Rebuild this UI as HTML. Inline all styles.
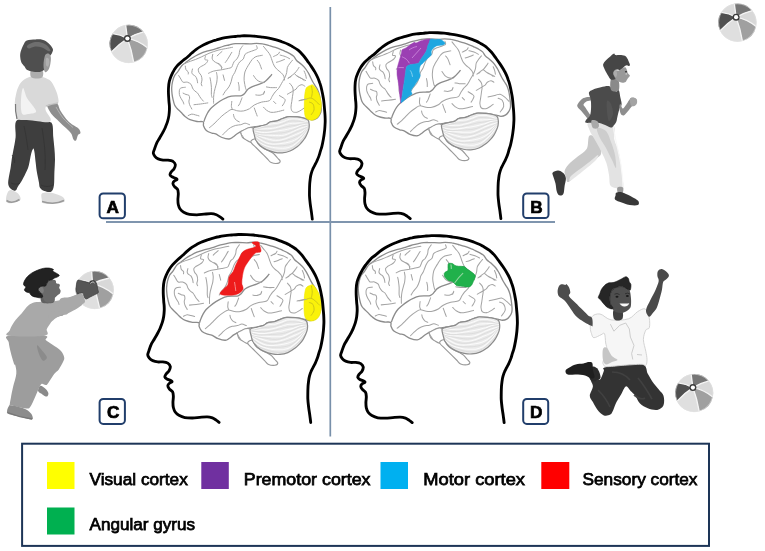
<!DOCTYPE html>
<html><head><meta charset="utf-8">
<style>
html,body{margin:0;padding:0;background:#fff;}
body{width:765px;height:551px;overflow:hidden;position:relative;font-family:"Liberation Sans",sans-serif;}
svg{position:absolute;left:0;top:0;display:block;will-change:transform;}
.lt{font-family:"Liberation Sans",sans-serif;font-size:17.2px;fill:#000;stroke:#000;stroke-width:0.75px;}
.lbl{font-family:"Liberation Sans",sans-serif;font-weight:bold;font-size:17.2px;fill:#000;stroke:#000;stroke-width:0.7px;}
</style></head>
<body>
<svg width="765" height="551" viewBox="0 0 765 551">
<defs>
<g id="brain"><path d="M172.1,94.4 C171.9,92.5 171.6,90.1 171.7,87.9 C171.8,85.7 172.1,83.3 172.6,81.3 C173.1,79.2 173.7,77.2 174.6,75.6 C175.5,74 176.7,73.2 177.9,71.5 C179.1,69.8 180.6,67 181.9,65.5 C183.2,64 184.1,63.9 185.5,62.8 C186.9,61.7 188.7,60.2 190.4,59 C192.1,57.8 194.1,56.8 195.9,55.8 C197.7,54.8 199.5,53.9 201.3,53.1 C203.1,52.3 205,51.8 206.8,51.2 C208.6,50.7 210.6,50.2 212.2,49.8 C213.8,49.4 214.6,49.1 216.3,48.6 C218.1,48.1 220.6,47.1 222.7,46.5 C224.8,45.9 226.9,45.5 229,45 C231.1,44.5 233.3,43.9 235.4,43.7 C237.5,43.5 239.3,43.6 241.7,43.6 C244.1,43.6 247.6,43.9 250,43.9 C252.4,43.9 254.2,43.4 256.3,43.4 C258.4,43.4 260.6,43.5 262.7,43.9 C264.8,44.2 266.9,44.9 269,45.5 C271.1,46.1 273.3,46.7 275.4,47.4 C277.5,48.1 280.1,49.2 281.7,49.9 C283.3,50.5 283.7,50.7 285,51.3 C286.3,51.9 287.9,52.6 289.4,53.4 C290.8,54.2 292.5,55.1 293.7,56.3 C294.9,57.5 295.4,59.2 296.6,60.5 C297.8,61.8 299.6,62.7 301,64 C302.4,65.3 304.1,66.8 305.3,68.3 C306.5,69.8 307.3,71.2 308.2,72.7 C309.1,74.2 309.9,76 310.6,77.5 C311.3,79 311.9,80.2 312.6,81.5 C313.3,82.8 314.2,84.2 315,85.5 C315.8,86.8 316.8,88 317.5,89.5 C318.2,91 318.8,92.7 319.3,94.5 C319.8,96.3 320.1,98.2 320.4,100.4 C320.7,102.6 321.1,105.8 321.2,107.7 C321.3,109.6 321.3,110.7 320.9,112 C320.5,113.3 319.8,114.7 319,115.8 C318.2,116.9 317.3,118 316.1,118.7 C314.9,119.4 313.1,119.8 311.8,119.8 C310.5,119.8 309.3,119.2 308.1,118.9 C306.9,118.7 306.3,118.6 304.5,118.3 C302.7,118 299.7,117.2 297.3,116.9 C294.9,116.6 291.7,116.6 290,116.6 C288.3,116.6 288.6,116.5 287.3,116.9 C286,117.3 283.8,118.1 282,118.8 C280.2,119.5 278.8,120.4 276.8,120.9 C274.8,121.4 271.7,121.4 270,122 C268.3,122.6 268.1,123.8 266.4,124.5 C264.7,125.2 261.8,125.8 260,126.1 C258.2,126.4 257.5,126.3 255.9,126.6 C254.3,126.8 252.2,127 250.2,127.6 C248.2,128.2 246,129.4 243.9,130.4 C241.8,131.4 239.4,132.4 237.6,133.5 C235.8,134.6 234.4,136.1 233,137 C231.6,137.9 230.8,138.9 229,139 C227.2,139.1 224.2,138.3 222,137.5 C219.8,136.7 217.4,134.6 215.7,133.9 C214,133.2 213.4,133.7 211.8,133.1 C210.2,132.5 207.7,131.6 206.3,130.4 C204.9,129.2 204,127.1 203.5,125.7 C203,124.3 204.2,122.5 203.1,121.8 C202,121.1 199.2,121.8 197,121.5 C194.8,121.2 192,120.5 190,119.7 C188,118.9 186.6,117.6 185.1,116.4 C183.6,115.2 182.4,113.7 181,112.3 C179.6,110.9 178,109.5 176.9,108.3 C175.8,107.1 175.2,106.5 174.6,105 C173.9,103.5 173.4,101.1 173,99.3 C172.6,97.5 172.3,96.3 172.1,94.4Z" fill="#fff" stroke="#8c8c8c" stroke-width="1.3"/>
<path d="M240.6,131.8 C240.8,132.8 241.3,135.7 242.3,137.1 C243.3,138.5 245.1,139.3 246.5,140.2 C247.9,141.1 249.4,142.1 250.7,142.3 C251.9,142.5 253.2,142.2 254,141.5 C254.8,140.8 255.4,139.4 255.5,138 C255.6,136.6 254.7,134.6 254.3,133 C253.9,131.4 254.2,129.1 253.3,128.2 C252.4,127.3 250.6,127.2 248.6,127.7 C246.6,128.2 242.6,130.6 241.3,131.3 C240,132 240.4,130.8 240.6,131.8Z" fill="#fff" stroke="#999" stroke-width="1.1"/>
<path d="M250.8,141.8 C251,143.2 254.1,145.6 256,147.5 C257.9,149.4 260.1,151.6 262,153.5 C263.9,155.4 266,157.5 267.5,159 C269,160.5 269.5,161.9 271.2,162.6 C272.9,163.3 276,163.6 277.5,163.4 C279,163.2 280.2,162.1 280.2,161.2 C280.2,160.3 278.5,159.2 277.5,158 C276.5,156.8 275.2,155.1 274,154 C272.8,152.9 271.8,152.5 270,151.5 C268.2,150.5 264.9,149.2 263,148 C261.1,146.8 259.8,146 258.5,144.5 C257.2,143 256.3,139.4 255,139 C253.7,138.6 250.6,140.4 250.8,141.8Z" fill="#fff" stroke="#999" stroke-width="1.1"/>
<clipPath id="cbclip"><path d="M253.3,128.2 C252.4,129.7 253.9,133 254.3,135 C254.7,137 254.9,138.4 255.9,140.2 C256.9,141.9 258.4,143.9 260.1,145.5 C261.9,147.1 264,148.5 266.4,149.6 C268.8,150.7 272.1,151.8 274.7,152.3 C277.3,152.8 279.6,153 282.1,152.8 C284.7,152.6 287.4,152.1 290,151 C292.6,149.9 295.6,147.8 297.5,146.4 C299.4,145 300.3,143.8 301.5,142.5 C302.7,141.2 303.8,139.9 304.8,138.3 C305.8,136.8 306.7,134.8 307.4,133.2 C308.1,131.6 308.6,130.3 308.9,128.9 C309.2,127.5 309.3,126 309.2,124.5 C309.1,123 308.9,121.2 308.1,120.2 C307.3,119.2 306.3,118.8 304.5,118.3 C302.7,117.8 299.7,117.2 297.3,116.9 C294.9,116.6 291.7,116.6 290,116.6 C288.3,116.6 288.6,116.5 287.3,116.9 C286,117.3 283.8,118.1 282,118.8 C280.2,119.5 278.8,120.4 276.8,120.9 C274.8,121.4 271.7,121.4 270,122 C268.3,122.6 268.1,123.8 266.4,124.5 C264.7,125.2 262.2,125.5 260,126.1 C257.8,126.7 254.2,126.7 253.3,128.2Z"/></clipPath>
<path d="M253.3,128.2 C252.4,129.7 253.9,133 254.3,135 C254.7,137 254.9,138.4 255.9,140.2 C256.9,141.9 258.4,143.9 260.1,145.5 C261.9,147.1 264,148.5 266.4,149.6 C268.8,150.7 272.1,151.8 274.7,152.3 C277.3,152.8 279.6,153 282.1,152.8 C284.7,152.6 287.4,152.1 290,151 C292.6,149.9 295.6,147.8 297.5,146.4 C299.4,145 300.3,143.8 301.5,142.5 C302.7,141.2 303.8,139.9 304.8,138.3 C305.8,136.8 306.7,134.8 307.4,133.2 C308.1,131.6 308.6,130.3 308.9,128.9 C309.2,127.5 309.3,126 309.2,124.5 C309.1,123 308.9,121.2 308.1,120.2 C307.3,119.2 306.3,118.8 304.5,118.3 C302.7,117.8 299.7,117.2 297.3,116.9 C294.9,116.6 291.7,116.6 290,116.6 C288.3,116.6 288.6,116.5 287.3,116.9 C286,117.3 283.8,118.1 282,118.8 C280.2,119.5 278.8,120.4 276.8,120.9 C274.8,121.4 271.7,121.4 270,122 C268.3,122.6 268.1,123.8 266.4,124.5 C264.7,125.2 262.2,125.5 260,126.1 C257.8,126.7 254.2,126.7 253.3,128.2Z" fill="#eaeaea"/>
<g clip-path="url(#cbclip)"><path d="M252,129.7 C252.8,129.5 255.4,129 257.1,128.5 C258.8,127.9 260.5,127.1 262.3,126.5 C264,125.9 265.7,125.1 267.5,124.6 C269.2,124.2 271,124 272.8,123.7 C274.6,123.4 276.5,123.4 278.3,123.1 C280.1,122.7 281.9,122.1 283.7,121.5 C285.5,120.9 287.3,119.7 289.1,119.3 C290.9,118.8 292.7,118.8 294.5,118.8 C296.3,118.9 298.2,119.1 300,119.5 C301.7,119.9 303.3,120.9 305,121.4 C306.7,121.9 309.2,122.4 310,122.6 M252,130.2 C252.8,130.1 255.1,129.6 256.8,129.4 C258.5,129.2 260.2,129 261.9,128.9 C263.7,128.8 265.4,128.8 267.2,128.7 C269,128.6 270.9,128.6 272.8,128.3 C274.6,128 276.5,127.5 278.4,127 C280.3,126.5 282.2,125.7 284.1,125.2 C285.9,124.6 287.8,123.8 289.6,123.5 C291.5,123.2 293.3,123.4 295.1,123.3 C296.9,123.2 298.7,123 300.4,122.9 C302.1,122.9 303.6,122.8 305.2,122.8 C306.8,122.8 309.2,122.7 310,122.7 M252,130.2 C252.8,130.4 254.9,131 256.5,131.3 C258.1,131.7 259.9,132.2 261.6,132.4 C263.4,132.5 265.2,132.6 267,132.4 C268.8,132.3 270.8,132 272.7,131.7 C274.6,131.4 276.6,131 278.6,130.7 C280.5,130.4 282.5,130.2 284.4,129.9 C286.4,129.6 288.3,129.1 290.2,128.6 C292.1,128.2 293.9,127.7 295.7,127.2 C297.4,126.6 299.2,125.7 300.9,125.2 C302.5,124.7 303.9,124.4 305.4,124.2 C307,124 309.2,124 310,124 M252,131.3 C252.7,131.8 254.7,133.2 256.3,133.8 C257.8,134.4 259.6,134.7 261.3,134.9 C263.1,135.1 264.9,135 266.8,135.1 C268.7,135.2 270.6,135.3 272.6,135.4 C274.6,135.5 276.7,135.7 278.7,135.6 C280.8,135.6 282.8,135.5 284.8,135 C286.8,134.5 288.8,133.5 290.7,132.7 C292.6,131.9 294.5,130.9 296.2,130.1 C298,129.4 299.8,128.6 301.3,128.1 C302.9,127.5 304.2,127.3 305.7,126.8 C307.1,126.4 309.3,125.5 310,125.3 M252,132.5 C252.7,132.9 254.5,134.4 256,135.1 C257.5,135.8 259.2,136.2 261,136.8 C262.7,137.4 264.6,138.1 266.5,138.6 C268.5,139.2 270.5,139.9 272.6,140.2 C274.6,140.4 276.8,140.5 278.9,140.3 C281,140.1 283.1,139.5 285.2,138.8 C287.2,138.2 289.4,137.1 291.3,136.4 C293.2,135.6 295,134.9 296.8,134.1 C298.5,133.4 300.3,132.7 301.8,131.8 C303.3,131 304.5,130 305.9,128.9 C307.3,127.8 309.3,126 310,125.4 M252,132.4 C252.6,133.1 254.3,135.1 255.7,136.3 C257.2,137.6 258.9,138.9 260.7,139.9 C262.4,141 264.3,142.1 266.3,142.8 C268.3,143.5 270.4,144 272.5,144.1 C274.6,144.3 276.9,144 279,143.8 C281.2,143.6 283.4,143.3 285.5,142.9 C287.7,142.5 289.9,142 291.8,141.3 C293.8,140.6 295.6,139.7 297.4,138.6 C299.1,137.4 300.8,136 302.2,134.6 C303.7,133.2 304.8,131.4 306.1,130 C307.4,128.6 309.4,126.7 310,126 M252,133 C252.6,133.9 254,137.1 255.4,138.8 C256.8,140.5 258.6,141.9 260.4,143.1 C262.1,144.3 264,145.1 266.1,145.8 C268.1,146.6 270.3,147 272.5,147.4 C274.6,147.8 277,148 279.2,148.2 C281.4,148.3 283.7,148.4 285.9,148.1 C288.1,147.7 290.4,147 292.4,146 C294.4,144.9 296.2,143.3 297.9,141.8 C299.6,140.2 301.3,138.5 302.7,136.9 C304.1,135.3 305.1,133.6 306.4,132.1 C307.6,130.5 309.4,128.3 310,127.6" fill="none" stroke="#fbfbfb" stroke-width="1"/><path d="M252,130.2 C252.8,130 255.3,129.4 256.9,129 C258.6,128.5 260.4,127.9 262.1,127.5 C263.8,127.1 265.6,126.8 267.3,126.6 C269.1,126.3 271,126.4 272.8,126.1 C274.6,125.9 276.5,125.7 278.4,125.2 C280.2,124.7 282,124 283.9,123.3 C285.7,122.6 287.5,121.6 289.4,121.2 C291.2,120.8 293,121 294.8,121 C296.6,121 298.5,121.2 300.2,121.4 C301.9,121.6 303.5,122 305.1,122.2 C306.7,122.5 309.2,122.5 310,122.6 M252,130.1 C252.8,130.1 255,130.1 256.7,130.2 C258.3,130.3 260,130.5 261.8,130.6 C263.5,130.7 265.3,130.8 267.1,130.8 C268.9,130.7 270.8,130.4 272.7,130.1 C274.6,129.8 276.6,129.2 278.5,128.8 C280.4,128.3 282.3,127.8 284.2,127.4 C286.1,126.9 288.1,126.4 289.9,126.1 C291.8,125.8 293.6,125.7 295.4,125.4 C297.2,125.1 299,124.5 300.6,124.1 C302.3,123.8 303.8,123.5 305.3,123.4 C306.9,123.2 309.2,123.2 310,123.2 M252,130.6 C252.7,131 254.8,132.1 256.4,132.6 C258,133.2 259.7,133.6 261.5,133.8 C263.2,134 265,133.9 266.9,133.8 C268.7,133.7 270.7,133.5 272.7,133.4 C274.6,133.2 276.7,133.2 278.7,133.1 C280.7,132.9 282.7,132.9 284.6,132.5 C286.6,132.2 288.6,131.5 290.5,130.8 C292.3,130.2 294.2,129.4 295.9,128.6 C297.7,127.9 299.5,127 301.1,126.4 C302.7,125.9 304.1,125.7 305.6,125.4 C307,125.2 309.3,124.9 310,124.8 M252,132.1 C252.7,132.5 254.6,134 256.1,134.6 C257.6,135.2 259.4,135.4 261.1,135.8 C262.9,136.1 264.7,136.4 266.6,136.7 C268.6,137 270.6,137.5 272.6,137.7 C274.6,138 276.7,138.3 278.8,138.1 C280.9,138 283,137.6 285,137 C287,136.4 289.1,135.3 291,134.4 C292.9,133.6 294.7,132.7 296.5,132 C298.3,131.2 300,130.6 301.6,130 C303.1,129.3 304.4,128.8 305.8,128 C307.2,127.3 309.3,125.9 310,125.4 M252,132.5 C252.6,133 254.4,134.6 255.8,135.6 C257.3,136.5 259.1,137.4 260.8,138.2 C262.6,139.1 264.5,140.1 266.4,140.8 C268.4,141.5 270.5,142.1 272.5,142.3 C274.6,142.6 276.8,142.4 279,142.1 C281.1,141.8 283.3,141.2 285.4,140.7 C287.5,140.1 289.6,139.4 291.6,138.7 C293.5,138 295.3,137.3 297.1,136.5 C298.8,135.6 300.5,134.6 302,133.4 C303.5,132.2 304.7,130.8 306,129.4 C307.3,128.1 309.3,126.2 310,125.5 M252,132.5 C252.6,133.3 254.2,135.9 255.6,137.5 C257,139 258.7,140.5 260.5,141.7 C262.3,142.8 264.2,143.8 266.2,144.5 C268.2,145.2 270.3,145.5 272.5,145.7 C274.6,145.9 276.9,145.8 279.1,145.8 C281.3,145.8 283.6,145.8 285.7,145.4 C287.9,145.1 290.1,144.7 292.1,143.8 C294.1,142.9 295.9,141.7 297.6,140.3 C299.4,138.9 301,137.2 302.5,135.7 C303.9,134.1 305,132.3 306.2,130.9 C307.5,129.4 309.4,127.5 310,126.8 M252,133.7 C252.6,134.7 253.9,138.2 255.3,139.9 C256.7,141.7 258.4,143 260.2,144.2 C262,145.4 263.9,146.3 265.9,147.2 C268,148 270.2,148.8 272.4,149.4 C274.6,150 277,150.6 279.3,150.7 C281.5,150.9 283.9,151 286.1,150.5 C288.3,150 290.7,149 292.7,147.8 C294.7,146.6 296.5,144.8 298.2,143.3 C299.9,141.7 301.6,140.2 302.9,138.5 C304.3,136.9 305.3,135.2 306.5,133.5 C307.6,131.7 309.4,129 310,128.1" fill="none" stroke="#d4d4d4" stroke-width="0.6"/></g>
<path d="M253.3,128.2 C252.4,129.7 253.9,133 254.3,135 C254.7,137 254.9,138.4 255.9,140.2 C256.9,141.9 258.4,143.9 260.1,145.5 C261.9,147.1 264,148.5 266.4,149.6 C268.8,150.7 272.1,151.8 274.7,152.3 C277.3,152.8 279.6,153 282.1,152.8 C284.7,152.6 287.4,152.1 290,151 C292.6,149.9 295.6,147.8 297.5,146.4 C299.4,145 300.3,143.8 301.5,142.5 C302.7,141.2 303.8,139.9 304.8,138.3 C305.8,136.8 306.7,134.8 307.4,133.2 C308.1,131.6 308.6,130.3 308.9,128.9 C309.2,127.5 309.3,126 309.2,124.5 C309.1,123 308.9,121.2 308.1,120.2 C307.3,119.2 306.3,118.8 304.5,118.3 C302.7,117.8 299.7,117.2 297.3,116.9 C294.9,116.6 291.7,116.6 290,116.6 C288.3,116.6 288.6,116.5 287.3,116.9 C286,117.3 283.8,118.1 282,118.8 C280.2,119.5 278.8,120.4 276.8,120.9 C274.8,121.4 271.7,121.4 270,122 C268.3,122.6 268.1,123.8 266.4,124.5 C264.7,125.2 262.2,125.5 260,126.1 C257.8,126.7 254.2,126.7 253.3,128.2Z" fill="none" stroke="#8c8c8c" stroke-width="1.2"/>
<path d="M203.8,121.8 C204.1,121.1 204.7,119.1 205.3,117.7 C205.9,116.3 206.6,114.8 207.4,113.3 C208.2,111.8 209.1,110.4 210.3,109 C211.5,107.6 213.1,106.3 214.7,105 C216.3,103.7 218,102.5 219.8,101.3 C221.6,100.1 223.7,98.9 225.6,98.1 C227.5,97.2 229.5,96.6 231.4,96.2 C233.3,95.8 235.5,96 237.2,95.9 C238.9,95.8 240.3,96 241.5,95.6 C242.7,95.2 243.6,94.5 244.4,93.7 C245.2,92.9 245.9,91.6 246.6,90.8 C247.3,90 247.5,89.5 248.5,88.8 C249.5,88.1 250.6,87.4 252.4,86.6 C254.2,85.8 257.3,85.1 259.5,84.2 C261.7,83.3 263.6,82.5 265.4,81.2 C267.2,79.9 269,77.7 270.1,76.5 C271.2,75.3 271.6,74.6 271.9,74.2" fill="none" stroke="#8c8c8c" stroke-width="1.3"/>
<path d="M184.5,63.5 C185.5,63.1 188.5,62 190.3,61.3 C192.1,60.6 193.6,60.2 195.4,59.5 C197.2,58.8 198.9,58 201.2,57 C203.5,56 206.2,54.4 209,53.3 C211.8,52.2 215.3,51 218,50.2 C220.7,49.4 222.9,49.2 225.3,48.7 C227.7,48.2 231.3,47.5 232.5,47.3 M205.6,55.9 C205.5,56.5 204.5,58.8 204.9,59.5 C205.3,60.2 207.6,59.7 207.8,60.3 C208,60.9 207,62.4 206.3,63.2 C205.6,64 204.4,64.7 203.4,65.3 C202.4,65.9 201.3,66.2 200.5,66.8 C199.7,67.4 198.6,68 198.3,69 C198.1,70 198.5,71.5 199,72.6 C199.5,73.7 200.7,74.3 201.2,75.5 C201.7,76.7 202,78.6 202,79.9 C202,81.2 201.2,82.6 201.2,83.6 C201.2,84.6 201.9,85.4 202,85.8 M185.3,66.1 C185.4,66.7 185.5,68.7 186,69.7 C186.5,70.7 187.8,71.2 188.2,71.9 C188.6,72.6 188.2,73.7 188.2,74 M192.5,69 C192.4,69.6 191.7,71.6 191.8,72.6 C191.9,73.6 192.6,74.2 193.2,74.8 C193.8,75.4 194.8,75.5 195.4,76.2 C196,76.9 196.5,78 196.9,79.1 C197.3,80.2 197.5,82.2 197.6,82.8 M212.8,54.4 C212.7,55 212,57 212.1,58.1 C212.2,59.2 212.8,60.1 213.6,61 C214.4,61.9 216.1,62.5 217.2,63.2 C218.3,63.9 219.3,64.6 220.1,65.3 C220.9,66 221.7,67.1 222,67.5 M217.2,55.9 C217.6,55.5 218.6,54.4 219.4,53.7 C220.2,53 221.6,51.9 222,51.5 M216.5,72.6 C216.6,73.3 217.1,75.4 217.2,77 C217.2,78.6 217,80.5 216.8,82 C216.6,83.5 216.2,84.2 215.8,85.8 C215.4,87.4 214.7,89.7 214.3,91.6 C213.9,93.5 213.7,95.5 213.6,97.4 C213.5,99.3 213.6,102.2 213.6,103.2 M242.7,45.8 C242.2,46.5 240.4,48.8 239.8,50.2 C239.2,51.7 239.6,53 239.1,54.5 C238.6,56 237.8,57.7 236.9,58.9 C236.1,60.1 234.7,60.7 234,61.8 C233.3,62.9 233,64.4 232.5,65.4 C232,66.4 232.3,67 231.1,67.6 C229.9,68.2 227.1,68.6 225.3,69 C223.5,69.4 222.1,69.7 220.2,70 C218.2,70.3 215.5,70.5 213.6,71.1 C211.7,71.6 209.3,72.9 208.5,73.3 M210,77.7 C210.1,78.3 210.5,79.7 210.7,81.3 C210.9,82.9 211.3,85.1 211.4,87.3 C211.5,89.5 211.3,92.8 211.4,94.5 C211.5,96.2 212,96.9 212.1,97.4 M231.8,52.3 C231.4,52.9 230.3,54.8 229.6,56 C228.9,57.2 228.1,58.5 227.4,59.6 C226.7,60.7 225.7,62 225.3,62.5 M256.5,45.8 C256.6,46.3 257.6,48 257.2,48.7 C256.8,49.4 255.8,49.6 254.3,50.2 C252.9,50.8 250.1,51.6 248.5,52.3 C246.9,53 245.8,53.4 244.9,54.5 C244.1,55.6 244.2,57.7 243.4,58.9 C242.6,60.1 240.8,60.7 239.8,61.8 C238.8,62.9 238.2,64.2 237.6,65.4 C237,66.6 236.7,67.8 236.2,69 C235.7,70.2 235.3,71.5 234.7,72.7 C234.1,73.9 233.1,74.8 232.5,76.3 C231.9,77.8 231.7,80 231.1,81.8 C230.5,83.6 229.9,85.3 228.9,86.9 C227.9,88.5 226.3,90 225.3,91.3 C224.3,92.6 223.5,94.3 223.1,94.9 M262.3,55.3 C261.2,55.5 257.5,56 255.8,56.7 C254.1,57.4 253.2,58.4 252.1,59.6 C251,60.8 250,62.7 249.2,64 C248.3,65.3 247.7,66.3 247,67.6 C246.3,68.9 245.4,70.3 244.9,72 C244.4,73.7 244.2,76.2 244.1,78 C244,79.8 244.2,81.3 244.5,83 C244.8,84.7 245.3,87.2 245.6,88.3 C245.9,89.4 246.2,89.5 246.3,89.8 M257.2,60.3 C257.6,60.8 258.7,61.8 259.4,63.2 C260.1,64.7 261.2,68 261.6,69 M263.5,46.4 C264,47 265.4,48.8 266.4,50 C267.4,51.2 268.6,52.5 269.3,53.6 C270,54.7 270.2,55.3 270.7,56.5 C271.2,57.7 271.6,59.3 272.2,60.9 C272.8,62.5 273.4,64.5 274.3,66 C275.2,67.5 276.2,68.5 277.3,69.6 C278.4,70.7 279.8,71.4 280.9,72.5 C282,73.6 283.2,74.8 283.8,76.1 C284.4,77.3 284.4,79.3 284.5,80 M218,63.2 C218.5,63.6 220.3,64.4 220.9,65.4 C221.5,66.4 221.5,68.4 221.6,69 M223.1,74.9 L224.5,80.4 M253.6,75.6 C254.1,76.3 255.4,78.6 256.5,79.6 C257.6,80.6 258.8,81.3 260.1,81.8 C261.4,82.3 263.8,82.4 264.5,82.5 M273.6,56.5 C274.3,56.1 277,55 278,54.3 C279,53.6 279.2,52.6 279.4,52.2 M280.2,55.1 C281,55.3 283.6,55.9 285.2,56.5 C286.8,57.1 288.9,58.3 289.6,58.7 M276.5,62.3 C277.2,62.1 279.6,61.4 280.9,60.9 C282.2,60.4 283.9,59.6 284.5,59.4 M292.5,60.2 C292,60.8 290.5,62.6 289.6,63.8 C288.8,65 287.9,66 287.4,67.4 C286.9,68.9 287.1,70.9 286.7,72.5 C286.3,74.1 285.7,75.7 285.2,76.9 C284.7,78.2 284.1,78.9 283.5,80 C282.9,81.1 282.4,81.9 281.6,83.3 C280.8,84.7 279.8,86.8 278.7,88.3 C277.6,89.8 276.2,90.7 275.1,92 C274,93.3 273.2,94.8 272.2,96.3 C271.2,97.8 271.1,99.7 269.3,100.7 C267.5,101.7 264.1,101.4 261.6,102.1 C259.1,102.8 256.3,103.9 254.3,105 C252.3,106.1 251.3,107.7 249.5,108.7 C247.7,109.7 245.6,110.5 243.7,110.9 C241.8,111.3 239.8,111.2 237.9,110.9 C236,110.7 233.7,109.3 232,109.4 C230.3,109.5 229.4,110.5 227.7,111.6 C226,112.7 223.6,114.5 221.9,116 C220.2,117.5 218.8,119 217.5,120.3 C216.2,121.6 215.2,122.8 213.9,124 C212.6,125.2 210.2,127 209.5,127.6 M299,67.4 C298.8,67.8 298.3,68.6 297.6,69.6 C296.9,70.6 295.8,72.1 294.7,73.2 C293.6,74.3 292.1,75.2 291,76.1 C289.9,76.9 288.6,77.9 288.1,78.3 M294.7,74 C295.3,74.5 297,76.1 298.3,76.9 C299.6,77.7 301.5,78.4 302.7,79 C303.9,79.6 305.1,80.2 305.6,80.5 M304.1,71 C304.4,71.6 305.2,73.5 305.6,74.7 C306,75.9 306.2,77.7 306.3,78.3 M178.7,75.5 C179.1,76.1 180.2,78 180.9,79.1 C181.6,80.2 182,81.7 183.1,82.2 C184.2,82.7 186.1,81.8 187.4,82.2 C188.7,82.6 190.2,83.4 191.1,84.4 C191.9,85.4 191.9,86.9 192.5,88 C193.1,89.1 193.8,90.1 194.7,90.9 C195.5,91.8 196.8,92.1 197.6,93.1 C198.4,94.1 199.1,95.6 199.8,96.7 C200.5,97.8 201.4,98.9 202,99.6 C202.6,100.3 203.2,100.8 203.4,101.1 M185.3,87.3 C184.6,87.4 181.9,87.5 180.9,88 C179.9,88.5 179.7,89.1 179.4,90.2 C179.2,91.3 179.2,93.2 179.4,94.5 C179.7,95.8 180.3,97 180.9,98.2 C181.5,99.4 182.6,100.8 183.1,101.8 C183.6,102.8 183.7,103.6 183.8,104 M183.1,93.1 C183.6,93.3 185,94.1 186,94.5 C187,94.9 188.3,94.7 188.9,95.3 C189.5,95.9 189.6,97.2 189.6,98.2 C189.6,99.2 188.9,100 188.9,101.1 C188.9,102.2 189.2,103.6 189.6,104.7 C190,105.8 190.7,106.9 191.1,107.6 C191.5,108.3 191.7,108.8 191.8,109 M194,104.7 C195.1,104.6 198.2,104.3 200.5,104 C202.8,103.7 206.6,103.1 207.8,102.9 M188.2,115.6 C188.8,115.3 190.6,114.2 191.8,114.1 C193,114 194.2,114.6 195.4,114.9 C196.6,115.2 198.4,115.7 199,115.9 M238.3,82.5 C238.4,83.2 239,85.6 239.1,86.9 C239.2,88.2 239.1,89.9 239.1,90.5 M255.8,94.9 C256.5,95 258.8,95.5 260.1,95.2 C261.4,95 263.1,94.1 263.8,93.4 C264.5,92.8 264.4,91.7 264.5,91.3 M242,97.8 C241.6,98.8 240.4,102.3 239.8,103.6 C239.2,104.9 238.6,105.4 238.3,105.8 M231.8,101.4 C231.7,102.2 231.3,105.2 231.4,106.5 C231.5,107.8 232.3,108.9 232.5,109.4 M254.3,108 C254.6,108.7 255.3,111 255.8,112.3 C256.3,113.6 257,115.4 257.2,116 M266.4,86.9 C267.1,87 269,87.5 270.7,87.6 C272.4,87.7 275.5,87.6 276.5,87.6 M279.4,95.6 C280,96 282.1,97.1 283.1,97.8 C284.1,98.5 285.1,99 285.2,100 C285.3,101 284.3,102.6 283.8,103.6 C283.3,104.6 282.6,105.4 282.3,105.8 M273.6,101.4 L275.8,103.6 M263.5,107.2 C264,107.7 265.2,109.2 266.4,110.1 C267.6,110.9 269,112 270.7,112.3 C272.4,112.6 274.3,112.3 276.5,111.9 C278.7,111.5 282.6,110.4 283.8,110.1 M289.6,83.3 C290.1,83.9 291.9,85.6 292.5,86.9 C293.1,88.2 293.2,89.7 293.2,91.3 C293.2,92.9 292.7,94.6 292.5,96.3 C292.3,98 292.1,99.6 291.8,101.4 C291.6,103.2 290.9,105.5 291,107.2 C291.1,108.9 291.5,110.8 292.5,111.6 C293.5,112.4 295.4,112.5 296.9,112.3 C298.3,112 300,110.8 301.2,110.1 C302.4,109.4 303.6,108.3 304.1,108 M287.4,94.2 C288.2,93.7 291.1,92.2 292.5,91.3 C293.9,90.4 295.1,89.9 296.1,89.1 C297.1,88.2 297.3,86.9 298.3,86.2 C299.3,85.5 300.8,84.7 301.9,84.7 C303,84.7 304.3,86 304.8,86.2 M288.1,78.2 L291,76.7 M296.9,76 C297.6,76.4 300,77.5 301.2,78.2 C302.4,78.9 303.6,80 304.1,80.4 M264.2,92 L263.5,94.2 M222.6,134.9 C223.2,134.3 224.9,132.4 226.2,131.2 C227.5,130 229,128.6 230.6,127.6 C232.2,126.6 234,125.9 235.7,125.4 C237.4,124.9 239.2,125.1 240.8,124.7 C242.4,124.3 243.7,123.2 245.1,123.2 C246.5,123.2 248.8,124.5 249.5,124.7 M233.5,114.5 C233.6,115 233.7,116.4 234.2,117.4 C234.7,118.4 235.6,119.6 236.4,120.3 C237.2,121 238.8,121.5 239.3,121.8 M240.8,133.4 L243.7,137.8 M299,100.7 C300.3,100.4 304.6,99.5 306.6,99 C308.6,98.5 309.6,97.7 311,98 C312.4,98.3 313.9,99.5 315.3,100.7 C316.8,101.9 319,104.3 319.7,105 M309,102 C309.7,102.3 312.1,102.7 313,104 C313.9,105.3 314.8,108.1 314.5,110 C314.2,111.9 311.6,114.6 311,115.5" fill="none" stroke="#a4a4a4" stroke-width="1" stroke-linecap="round"/></g>
<g id="outline"><path d="M222.9,219.1 C222.4,218.7 221.1,217.6 220,216.9 C218.9,216.2 217.8,215.3 216.4,214.8 C215,214.3 213.4,213.8 211.3,213.7 C209.2,213.6 206.4,214 204,214.2 C201.6,214.4 199.2,214.8 196.8,214.8 C194.4,214.8 191.7,214.8 189.5,214.4 C187.3,214 185.3,213.1 183.7,212.2 C182.1,211.3 181,210.3 180.1,209 C179.2,207.7 178.7,206.2 178.3,204.6 C177.9,203 177.9,201.3 177.9,199.5 C177.9,197.7 178.4,195.4 178.3,193.7 C178.2,192 178.2,190.6 177.6,189.4 C177,188.2 175.3,187.6 174.5,186.6 C173.7,185.6 172.9,184.3 172.9,183.4 C172.9,182.5 173.8,181.5 174.5,180.9 C175.2,180.3 176.6,180.1 176.9,179.7 C177.2,179.3 176.9,179 176.1,178.5 C175.3,178 173,177.4 172,176.8 C171,176.2 170.1,175.6 170,174.8 C169.9,174 170.5,172.9 171.2,171.9 C171.9,170.9 173.4,169.9 174.1,168.7 C174.8,167.5 175.5,165.8 175.3,164.6 C175.1,163.4 174.1,162.1 172.9,161.3 C171.7,160.6 169.6,160.3 168,160.1 C166.4,159.9 164.7,160.3 163.1,160.1 C161.5,159.9 159.6,159.5 158.2,158.9 C156.8,158.3 155.7,157.4 154.9,156.4 C154.1,155.4 153.4,154.4 153.3,153.2 C153.2,152 153.9,150.9 154.5,149.1 C155.1,147.3 156,144.5 156.9,142.6 C157.8,140.7 158.8,139.5 159.8,137.7 C160.8,135.9 162.2,133.7 163.1,131.9 C164,130.1 164.8,128.8 165.5,127 C166.2,125.2 167,123.2 167.6,121.3 C168.2,119.4 168.6,117.5 168.9,115.6 C169.2,113.7 169.3,111.8 169.4,110 C169.5,108.2 169.4,106.5 169.3,105 C169.2,103.5 169,102.7 168.9,100.9 C168.8,99.1 168.6,96.6 168.5,94.4 C168.4,92.2 168.4,90.1 168.5,87.9 C168.6,85.7 168.8,83.3 169.3,81.3 C169.8,79.2 170.5,77.5 171.3,75.6 C172.1,73.7 173.1,71.6 174.2,69.9 C175.3,68.2 176.2,66.8 177.7,65.2 C179.2,63.6 181.4,61.9 183,60.5 C184.6,59.1 186.1,58.2 187.5,57 C188.9,55.8 190.1,54.5 191.5,53.3 C192.9,52.1 194.3,50.8 195.9,49.6 C197.5,48.4 199.5,47.1 201.3,46.1 C203.1,45.1 205,44.2 206.8,43.4 C208.6,42.6 210.6,41.8 212.2,41.2 C213.8,40.6 214.6,40.5 216.3,40 C218.1,39.5 220.6,38.7 222.7,38.2 C224.8,37.7 226.9,37.4 229,37.1 C231.1,36.8 233.3,36.7 235.4,36.5 C237.5,36.3 239.3,35.9 241.7,35.8 C244.1,35.7 247.6,35.8 250,35.9 C252.4,36 254.2,36.1 256.3,36.3 C258.4,36.5 260.6,36.9 262.7,37.2 C264.8,37.5 266.9,37.8 269,38.2 C271.1,38.6 273.3,39.1 275.4,39.7 C277.5,40.3 279.6,41 281.7,41.7 C283.8,42.5 286.3,43.4 288.1,44.2 C289.9,45 290.6,45.5 292.3,46.5 C294,47.5 296.3,48.8 298.1,50.2 C299.9,51.7 301.5,53.4 303.1,55.2 C304.7,57 306.2,59.3 307.5,61.1 C308.8,62.9 309.9,64.3 311.1,66.1 C312.3,67.9 313.7,70 314.8,71.9 C315.9,73.8 316.9,75.7 317.7,77.5 C318.5,79.3 319.1,81 319.6,82.5 C320.2,84 320.5,85 321,86.8 C321.5,88.6 321.9,90.8 322.4,93.1 C322.8,95.4 323.4,98 323.7,100.4 C324,102.8 324.2,105.3 324.4,107.7 C324.6,110.1 324.9,112.8 325,115 C325.1,117.2 325.2,119 325.2,121 C325.2,123 325,125 324.9,127 C324.8,129 324.6,131 324.3,133 C324.1,135 323.8,136.8 323.4,139 C323,141.2 322.4,144.3 321.9,146.3 C321.4,148.3 321,149.2 320.5,150.8 C320,152.4 319.6,154.2 319,155.9 C318.4,157.6 317.6,159.4 316.9,161 C316.2,162.6 315.4,163.9 314.7,165.3 C314,166.8 313.1,168.2 312.5,169.7 C311.9,171.1 311.5,172.6 311.1,174 C310.7,175.4 310.5,176.7 310.3,178.4 C310.1,180.1 309.8,182.1 309.7,184 C309.6,185.9 309.5,187.9 309.5,190 C309.5,192.1 309.4,193.9 309.5,196.3 C309.6,198.7 310,201.8 310.3,204.5 C310.6,207.2 311.2,210.2 311.5,212.7 C311.8,215.1 312.2,218.1 312.3,219.2" fill="none" stroke="#000" stroke-width="2.8" stroke-linecap="round" stroke-linejoin="round"/></g>
<g id="outlineC"><path d="M222.9,219.1 C222.4,218.7 221.1,217.6 220,216.9 C218.9,216.2 217.8,215.3 216.4,214.8 C215,214.3 213.4,213.8 211.3,213.7 C209.2,213.6 206.4,214 204,214.2 C201.6,214.4 199.2,214.8 196.8,214.8 C194.4,214.8 191.7,214.8 189.5,214.4 C187.3,214 185.3,213.1 183.7,212.2 C182.1,211.3 181,210.3 180.1,209 C179.2,207.7 178.7,206.2 178.3,204.6 C177.9,203 177.9,201.3 177.9,199.5 C177.9,197.7 178.4,195.4 178.3,193.7 C178.2,192 178.2,190.6 177.6,189.4 C177,188.2 175.3,187.6 174.5,186.6 C173.7,185.6 172.9,184.3 172.9,183.4 C172.9,182.5 173.8,181.5 174.5,180.9 C175.2,180.3 176.6,180.1 176.9,179.7 C177.2,179.3 176.9,179 176.1,178.5 C175.3,178 173,177.4 172,176.8 C171,176.2 170.1,175.6 170,174.8 C169.9,174 170.5,172.9 171.2,171.9 C171.9,170.9 173.4,169.9 174.1,168.7 C174.8,167.5 175.5,165.8 175.3,164.6 C175.1,163.4 174.1,162.1 172.9,161.3 C171.7,160.6 169.6,160.3 168,160.1 C166.4,159.9 164.7,160.3 163.1,160.1 C161.5,159.9 159.6,159.5 158.2,158.9 C156.8,158.3 155.7,157.4 154.9,156.4 C154.1,155.4 153.4,154.4 153.3,153.2 C153.2,152 153.9,150.9 154.5,149.1 C155.1,147.3 156,144.5 156.9,142.6 C157.8,140.7 158.8,139.5 159.8,137.7 C160.8,135.9 162.2,133.7 163.1,131.9 C164,130.1 164.8,128.8 165.5,127 C166.2,125.2 167,123.2 167.6,121.3 C168.2,119.4 168.6,117.5 168.9,115.6 C169.2,113.7 169.3,111.8 169.4,110 C169.5,108.2 169.4,106.5 169.3,105 C169.2,103.5 169,102.7 168.9,100.9 C168.8,99.1 168.6,96.6 168.5,94.4 C168.4,92.2 168.4,90.1 168.5,87.9 C168.6,85.7 168.8,83.3 169.3,81.3 C169.8,79.2 170.5,77.5 171.3,75.6 C172.1,73.7 173.1,71.6 174.2,69.9 C175.3,68.2 176.2,66.9 177.7,65.2 C179.2,63.5 181.4,61.4 183,59.9 C184.6,58.4 186.1,57.4 187.5,56.1 C188.9,54.8 190.1,53.5 191.5,52.3 C192.9,51.1 194.3,49.8 195.9,48.7 C197.5,47.5 199.5,46.4 201.3,45.4 C203.1,44.4 205,43.6 206.8,42.8 C208.6,42.1 210.6,41.3 212.2,40.8 C213.8,40.2 214.6,40.1 216.3,39.6 C218.1,39.2 220.6,38.4 222.7,38 C224.8,37.5 226.9,37.2 229,36.9 C231.1,36.6 233.3,36.5 235.4,36.3 C237.5,36.1 239.3,35.9 241.7,35.8 C244.1,35.7 247.6,35.8 250,35.9 C252.4,36 254.2,36.1 256.3,36.3 C258.4,36.5 260.6,36.9 262.7,37.2 C264.8,37.5 266.9,37.8 269,38.2 C271.1,38.6 273.3,39.1 275.4,39.7 C277.5,40.3 279.6,41 281.7,41.7 C283.8,42.5 286.3,43.4 288.1,44.2 C289.9,45 290.6,45.5 292.3,46.5 C294,47.5 296.3,48.8 298.1,50.2 C299.9,51.7 301.5,53.4 303.1,55.2 C304.7,57 306.2,59.3 307.5,61.1 C308.8,62.9 309.9,64.3 311.1,66.1 C312.3,67.9 313.7,70 314.8,71.9 C315.9,73.8 316.9,75.7 317.7,77.5 C318.5,79.3 319.1,81 319.6,82.5 C320.2,84 320.5,85 321,86.8 C321.5,88.6 321.9,90.8 322.4,93.1 C322.8,95.4 323.4,98 323.7,100.4 C324,102.8 324.2,105.3 324.4,107.7 C324.6,110.1 324.9,112.8 325,115 C325.1,117.2 325.2,119 325.2,121 C325.2,123 325,125 324.9,127 C324.8,129 324.6,131 324.3,133 C324.1,135 323.8,136.8 323.4,139 C323,141.2 322.4,144.3 321.9,146.3 C321.4,148.3 321,149.2 320.5,150.8 C320,152.4 319.6,154.2 319,155.9 C318.4,157.6 317.6,159.4 316.9,161 C316.2,162.6 315.4,163.9 314.7,165.3 C314,166.8 313.1,168.2 312.5,169.7 C311.9,171.1 311.5,172.6 311.1,174 C310.7,175.4 310.5,176.7 310.3,178.4 C310.1,180.1 309.8,182.1 309.7,184 C309.6,185.9 309.5,187.9 309.5,190 C309.5,192.1 309.4,193.9 309.5,196.3 C309.6,198.7 310,201.8 310.3,204.5 C310.6,207.2 311.2,210.2 311.5,212.7 C311.8,215.1 312.2,218.1 312.3,219.2" fill="none" stroke="#000" stroke-width="2.8" stroke-linecap="round" stroke-linejoin="round"/></g>
<g id="outlineD"><path d="M222.9,219.1 C222.4,218.7 221.1,217.6 220,216.9 C218.9,216.2 217.8,215.3 216.4,214.8 C215,214.3 213.4,213.8 211.3,213.7 C209.2,213.6 206.4,214 204,214.2 C201.6,214.4 199.2,214.8 196.8,214.8 C194.4,214.8 191.7,214.8 189.5,214.4 C187.3,214 185.3,213.1 183.7,212.2 C182.1,211.3 181,210.3 180.1,209 C179.2,207.7 178.7,206.2 178.3,204.6 C177.9,203 177.9,201.3 177.9,199.5 C177.9,197.7 178.4,195.4 178.3,193.7 C178.2,192 178.2,190.6 177.6,189.4 C177,188.2 175.3,187.6 174.5,186.6 C173.7,185.6 172.9,184.3 172.9,183.4 C172.9,182.5 173.8,181.5 174.5,180.9 C175.2,180.3 176.6,180.1 176.9,179.7 C177.2,179.3 176.9,179 176.1,178.5 C175.3,178 173,177.4 172,176.8 C171,176.2 170.1,175.6 170,174.8 C169.9,174 170.5,172.9 171.2,171.9 C171.9,170.9 173.4,169.9 174.1,168.7 C174.8,167.5 175.5,165.8 175.3,164.6 C175.1,163.4 174.1,162.1 172.9,161.3 C171.7,160.6 169.6,160.3 168,160.1 C166.4,159.9 164.7,160.3 163.1,160.1 C161.5,159.9 159.6,159.5 158.2,158.9 C156.8,158.3 155.7,157.4 154.9,156.4 C154.1,155.4 153.4,154.4 153.3,153.2 C153.2,152 153.9,150.9 154.5,149.1 C155.1,147.3 156,144.5 156.9,142.6 C157.8,140.7 158.8,139.5 159.8,137.7 C160.8,135.9 162.2,133.7 163.1,131.9 C164,130.1 164.8,128.8 165.5,127 C166.2,125.2 167,123.2 167.6,121.3 C168.2,119.4 168.6,117.5 168.9,115.6 C169.2,113.7 169.3,111.8 169.4,110 C169.5,108.2 169.4,106.5 169.3,105 C169.2,103.5 169,102.7 168.9,100.9 C168.8,99.1 168.6,96.6 168.5,94.4 C168.4,92.2 168.4,90.1 168.5,87.9 C168.6,85.7 168.8,83.3 169.3,81.3 C169.8,79.2 170.5,77.5 171.3,75.6 C172.1,73.7 173.1,71.7 174.2,69.9 C175.3,68.1 176.2,66.5 177.7,64.6 C179.2,62.6 181.4,59.9 183,58.2 C184.6,56.6 186.1,55.9 187.5,54.7 C188.9,53.6 190.1,52.4 191.5,51.3 C192.9,50.2 194.3,49.2 195.9,48.2 C197.5,47.2 199.5,46.1 201.3,45.2 C203.1,44.3 205,43.5 206.8,42.8 C208.6,42.1 210.6,41.3 212.2,40.8 C213.8,40.2 214.6,40.1 216.3,39.6 C218.1,39.2 220.6,38.4 222.7,38 C224.8,37.5 226.9,37.2 229,36.9 C231.1,36.6 233.3,36.5 235.4,36.3 C237.5,36.1 239.3,35.9 241.7,35.8 C244.1,35.7 247.6,35.8 250,35.9 C252.4,36 254.2,36.1 256.3,36.3 C258.4,36.5 260.6,36.9 262.7,37.2 C264.8,37.5 266.9,37.8 269,38.2 C271.1,38.6 273.3,39.1 275.4,39.7 C277.5,40.3 279.6,41 281.7,41.7 C283.8,42.5 286.3,43.4 288.1,44.2 C289.9,45 290.6,45.5 292.3,46.5 C294,47.5 296.3,48.8 298.1,50.2 C299.9,51.7 301.5,53.4 303.1,55.2 C304.7,57 306.2,59.3 307.5,61.1 C308.8,62.9 309.9,64.3 311.1,66.1 C312.3,67.9 313.7,70 314.8,71.9 C315.9,73.8 316.9,75.7 317.7,77.5 C318.5,79.3 319.1,81 319.6,82.5 C320.2,84 320.5,85 321,86.8 C321.5,88.6 321.9,90.8 322.4,93.1 C322.8,95.4 323.4,98 323.7,100.4 C324,102.8 324.2,105.3 324.4,107.7 C324.6,110.1 324.9,112.8 325,115 C325.1,117.2 325.2,119 325.2,121 C325.2,123 325,125 324.9,127 C324.8,129 324.6,131 324.3,133 C324.1,135 323.8,136.8 323.4,139 C323,141.2 322.4,144.3 321.9,146.3 C321.4,148.3 321,149.2 320.5,150.8 C320,152.4 319.6,154.2 319,155.9 C318.4,157.6 317.6,159.4 316.9,161 C316.2,162.6 315.4,163.9 314.7,165.3 C314,166.8 313.1,168.2 312.5,169.7 C311.9,171.1 311.5,172.6 311.1,174 C310.7,175.4 310.5,176.7 310.3,178.4 C310.1,180.1 309.8,182.1 309.7,184 C309.6,185.9 309.5,187.9 309.5,190 C309.5,192.1 309.4,193.9 309.5,196.3 C309.6,198.7 310,201.8 310.3,204.5 C310.6,207.2 311.2,210.2 311.5,212.7 C311.8,215.1 312.2,218.1 312.3,219.2" fill="none" stroke="#000" stroke-width="2.8" stroke-linecap="round" stroke-linejoin="round"/></g>
</defs>
<line x1="330.3" y1="7" x2="330.3" y2="436.5" stroke="#7890aa" stroke-width="1.7"/>
<line x1="106" y1="222" x2="555" y2="222" stroke="#7f95ae" stroke-width="1.9"/>
<g transform="matrix(1,0,0,1,0,0)"><g transform="translate(0,0)"><use href="#brain"/><path d="M306.6,87.6 C305.7,88.9 305.4,90.7 305,93.1 C304.6,95.5 304.5,98.9 304.4,101.8 C304.3,104.7 304.2,108 304.4,110.5 C304.6,113 304.8,115.5 305.5,117 C306.2,118.5 307.5,119.2 308.8,119.7 C310.1,120.2 311.7,120.3 313.1,120 C314.6,119.7 316.3,118.8 317.5,117.6 C318.7,116.4 319.6,114.6 320.2,112.7 C320.8,110.8 321.2,108.3 321.3,106.1 C321.4,103.9 321.1,101.8 320.7,99.6 C320.2,97.4 319.5,95.1 318.6,93.1 C317.7,91.1 316.3,89 315.3,87.6 C314.3,86.2 313.4,85.3 312.6,84.9 C311.8,84.5 311.4,85 310.4,85.4 C309.4,85.9 307.5,86.3 306.6,87.6Z" fill="#faf20a" stroke="#f0e800" stroke-width="0.6"/><path d="M306.6,99 C307.3,98.8 309.6,97.7 311,98 C312.4,98.3 313.9,99.5 315.3,100.7 C316.8,101.9 319,104.3 319.7,105 M311.5,86 C311.6,87 312.3,90.1 312.3,92 C312.3,93.9 311.6,96.6 311.5,97.5 M309,102 C309.7,102.3 312.2,102.7 313,104 C313.8,105.3 314.3,108.2 314,110 C313.7,111.8 311.5,114.2 311,115" fill="none" stroke="#c9c21a" stroke-width="0.9"/><path d="M299,100.7 C302,100 304,99.4 306.6,99" fill="none" stroke="#a6a6a6" stroke-width="1"/></g><use href="#outline"/></g>
<g transform="matrix(1.014,0,0,1.0144,184.2,-3.7)"><g transform="translate(0.6,-1.5)"><use href="#brain"/></g><use href="#outline"/></g>
<path d="M401.5,52.5 C401.8,51.4 401.4,50.5 402.3,49.6 C403.2,48.8 405,48.4 406.6,47.4 C408.2,46.4 410.4,44.6 411.7,43.8 C413,42.9 413.9,42.4 414.6,42.3 C415.3,42.2 415,43.2 416,43 C417,42.8 418.8,41.5 420.4,40.9 C422,40.3 423.8,39.7 425.5,39.4 C427.2,39.1 430,38.6 430.6,39.2 C431.2,39.8 429.6,41.9 429.1,43 C428.6,44.1 428.1,44.8 427.7,45.9 C427.3,47 427.3,48.5 426.9,49.6 C426.5,50.7 426.1,51.5 425.5,52.5 C424.9,53.5 424.2,54.5 423.5,55.5 C422.8,56.5 421.9,57.7 421.3,58.5 C420.8,59.3 420.7,59.6 420.2,60.4 C419.7,61.2 419.4,62.6 418.4,63.2 C417.3,63.8 415.4,63.8 413.9,64.1 C412.4,64.4 410.5,64.5 409.3,65 C408.1,65.5 407.2,65.8 406.6,66.8 C406,67.8 406,69.5 405.7,71.3 C405.4,73.1 405.1,75.6 404.8,77.7 C404.5,79.8 404.2,82 403.9,84 C403.6,86 403.3,87.5 403,89.5 C402.7,91.5 402.4,93.6 402.1,95.8 C401.8,98 401.4,101.3 401.2,102.4 C401,103.5 400.9,103.3 400.7,102.2 C400.5,101.1 400,97.6 399.8,95.8 C399.6,94 399.5,92.8 399.3,91.3 C399.1,89.8 399.1,88.5 398.9,86.7 C398.7,84.9 398.3,82.4 398,80.4 C397.7,78.5 397.2,76.8 397.1,75 C397,73.2 397,71.2 397.1,69.5 C397.2,67.8 397.6,66.5 398,65 C398.4,63.5 398.9,61.8 399.3,60.4 C399.7,59 400.1,57.8 400.5,56.5 C400.9,55.2 401.2,53.6 401.5,52.5Z" fill="#9b3fb3" stroke="#9b3fb3" stroke-width="0.5" stroke-linejoin="round"/>
<path d="M435.6,39.4 C437.2,39.4 438.8,39.1 440,39.4 C441.2,39.6 442.1,40.3 442.9,40.9 C443.7,41.5 444.8,42.4 445,43 C445.2,43.6 444.6,44.1 444,44.5 C443.4,44.9 442.7,45 441.4,45.2 C440.1,45.4 437.7,45.4 436.4,45.9 C435.1,46.4 434.4,47.2 433.5,48.1 C432.6,49 431.7,49.9 431.3,51 C430.9,52.1 431.7,53.7 431.1,55 C430.5,56.3 428.9,57.2 427.5,58.6 C426.1,60 424.1,62 422.9,63.2 C421.7,64.4 420.8,64.6 420.2,65.9 C419.6,67.2 419.3,69.6 419.3,71.3 C419.3,73 420.4,74.5 420.2,75.9 C420,77.3 419.3,78 418.4,79.5 C417.5,81 416,83.1 414.8,84.9 C413.6,86.7 411.6,88.9 411.1,90.4 C410.6,91.9 412.4,93 412,94 C411.6,95 409.8,95.6 408.4,96.7 C407,97.8 405.1,99.5 403.9,100.4 C402.7,101.4 401.5,103.2 401.2,102.4 C400.9,101.6 401.8,98 402.1,95.8 C402.4,93.6 402.7,91.5 403,89.5 C403.3,87.5 403.6,86 403.9,84 C404.2,82 404.5,79.8 404.8,77.7 C405.1,75.6 405.4,73.1 405.7,71.3 C406,69.5 406,67.8 406.6,66.8 C407.2,65.8 408.1,65.5 409.3,65 C410.5,64.5 412.4,64.4 413.9,64.1 C415.4,63.8 417.3,63.8 418.4,63.2 C419.4,62.6 419.7,61.2 420.2,60.4 C420.7,59.6 420.8,59.3 421.3,58.5 C421.9,57.7 422.8,56.5 423.5,55.5 C424.2,54.5 424.9,53.5 425.5,52.5 C426.1,51.5 426.5,50.7 426.9,49.6 C427.3,48.5 427.3,47 427.7,45.9 C428.1,44.8 428.6,44.1 429.1,43 C429.6,41.9 429.5,39.8 430.6,39.2 C431.7,38.6 434,39.4 435.6,39.4Z" fill="#1ea6e0" stroke="#1ea6e0" stroke-width="0.5" stroke-linejoin="round"/>
<path d="M402.1,56.8 C404,57.8 406,58.5 407.5,60.5 C408.3,61.5 409,62.5 409.3,63.2 M398.4,67.7 C400,67.5 402,67.5 403.9,67.7 M409,50 C411,48.5 414,47 417,46.5 M412,58 C415,55 418,51 421,48" fill="none" stroke="#cf8fe0" stroke-width="0.8"/>
<path d="M410.2,70.4 C411,71.5 412,73 412.5,76.8" fill="none" stroke="#8fd6f2" stroke-width="0.9"/>
<g transform="matrix(1.025,0,0,1.025,-9.4,197.8)"><g transform="translate(0,0)"><use href="#brain"/><g transform="translate(1.5,0)"><path d="M306.6,87.6 C305.7,88.9 305.4,90.7 305,93.1 C304.6,95.5 304.5,98.9 304.4,101.8 C304.3,104.7 304.2,108 304.4,110.5 C304.6,113 304.8,115.5 305.5,117 C306.2,118.5 307.5,119.2 308.8,119.7 C310.1,120.2 311.7,120.3 313.1,120 C314.6,119.7 316.3,118.8 317.5,117.6 C318.7,116.4 319.6,114.6 320.2,112.7 C320.8,110.8 321.2,108.3 321.3,106.1 C321.4,103.9 321.1,101.8 320.7,99.6 C320.2,97.4 319.5,95.1 318.6,93.1 C317.7,91.1 316.3,89 315.3,87.6 C314.3,86.2 313.4,85.3 312.6,84.9 C311.8,84.5 311.4,85 310.4,85.4 C309.4,85.9 307.5,86.3 306.6,87.6Z" fill="#faf20a" stroke="#f0e800" stroke-width="0.6"/><path d="M306.6,99 C307.3,98.8 309.6,97.7 311,98 C312.4,98.3 313.9,99.5 315.3,100.7 C316.8,101.9 319,104.3 319.7,105 M311.5,86 C311.6,87 312.3,90.1 312.3,92 C312.3,93.9 311.6,96.6 311.5,97.5 M309,102 C309.7,102.3 312.2,102.7 313,104 C313.8,105.3 314.3,108.2 314,110 C313.7,111.8 311.5,114.2 311,115" fill="none" stroke="#c9c21a" stroke-width="0.9"/><path d="M299,100.7 C302,100 304,99.4 306.6,99" fill="none" stroke="#a6a6a6" stroke-width="1"/></g></g><use href="#outlineC"/></g>
<path d="M252,242.6 C252.4,242 257.1,241.6 258.4,242 C259.7,242.4 259.2,243.6 259.6,245.2 C260,246.8 261.5,250.2 260.9,251.5 C260.3,252.8 257.3,252 255.8,252.8 C254.3,253.7 253.3,255.1 252,256.6 C250.7,258.1 249.5,259.8 248.2,261.7 C246.9,263.6 245.3,265.7 244.4,268 C243.5,270.3 242.9,273.1 242.5,275.7 C242.1,278.2 241.7,281.2 241.8,283.3 C241.9,285.4 243.3,286.9 243.1,288.4 C242.9,289.9 241.9,291.1 240.6,292.2 C239.3,293.2 237.6,294.2 235.5,294.7 C233.4,295.2 230.2,295.3 227.9,295.3 C225.6,295.3 222.8,295.1 221.5,294.7 C220.2,294.3 219.8,293.9 220.2,292.8 C220.6,291.8 222.8,289.8 224.1,288.4 C225.4,287 227.1,286.4 227.9,284.5 C228.7,282.6 228.2,279 229.1,276.9 C229.9,274.8 231.9,273.7 233,271.8 C234.1,269.9 234.7,267.4 235.5,265.5 C236.3,263.6 237.2,262.1 238,260.4 C238.8,258.7 239.8,256.8 240.6,255.3 C241.4,253.8 241.8,252.6 243.1,251.5 C244.4,250.4 246.5,249.6 248.2,249 C249.9,248.4 252,248.2 253.3,247.7 C254.6,247.2 256,246.7 255.8,245.8 C255.6,245 251.6,243.2 252,242.6Z" fill="#ee1b1b" stroke="#ee1b1b" stroke-width="0.5" stroke-linejoin="round"/>
<path d="M234.5,282 C235,285 235.5,288 235.8,291" fill="none" stroke="#f7a0a0" stroke-width="0.8"/>
<g transform="matrix(1.0285,0,0,1.02,182.93,199.1)"><g transform="translate(-1.2,-1)"><use href="#brain"/></g><use href="#outlineD"/></g>
<path d="M448.6,263.6 C449.3,263.1 451.3,263.3 452.3,263.6 C453.3,263.9 453.8,264.9 454.8,265.4 C455.8,265.8 456.9,266.1 458.5,266.3 C460.1,266.5 462.7,266.1 464.1,266.6 C465.6,267.1 466.1,268.3 467.2,269.1 C468.3,269.9 469.7,270.7 470.9,271.6 C472.1,272.5 473.9,273.8 474.6,274.7 C475.3,275.6 475.4,276 475.2,277.1 C475,278.2 473.9,280.1 473.3,281.5 C472.7,282.9 472.3,284.3 471.5,285.2 C470.7,286.1 469.7,286.8 468.4,287 C467.1,287.2 465.4,286.6 463.5,286.4 C461.6,286.2 458.8,286.2 457.3,285.8 C455.9,285.4 455.6,284.6 454.8,283.9 C454,283.2 453.4,282.1 452.3,281.5 C451.2,280.9 449.2,280.9 448,280.2 C446.8,279.5 445.5,278.2 444.9,277.1 C444.3,276 444.1,274.3 444.3,273.4 C444.5,272.5 445.6,272.1 446.2,271.6 C446.8,271.1 447.7,271.1 448,270.3 C448.3,269.5 447.9,267.7 448,266.6 C448.1,265.5 447.9,264.1 448.6,263.6Z" fill="#20b14b" stroke="#1a9d42" stroke-width="0.7" stroke-linejoin="round"/>
<path d="M454.8,282.7 C457,279.5 460,276 462.8,273.4 M451,264.8 C451.2,266 451.3,267.5 451.3,268.5" fill="none" stroke="#92d6a0" stroke-width="1.1" stroke-linecap="round"/>
<path d="M47,105 C47.1,103.3 50.2,104.2 52,104 C53.8,103.8 56.2,103 57.5,104 C58.8,105 58.9,108 60,110 C61.1,112 62.6,114.1 64,116 C65.4,117.9 67,120 68.5,121.5 C70,123 71.3,123.8 73,125 C74.7,126.2 77.2,127.2 78.5,128.5 C79.8,129.8 80.6,131.9 80.5,133 C80.4,134.1 78.8,133.8 78,135 C77.2,136.2 76.8,139.8 76,140.5 C75.2,141.2 74.2,140.6 73.5,139.5 C72.8,138.4 72.4,135.6 71.5,134 C70.6,132.4 69.5,131.5 68,130 C66.5,128.5 64.3,126.8 62.5,125 C60.7,123.2 58.8,121.3 57,119.5 C55.2,117.7 53.2,116.4 51.5,114 C49.8,111.6 46.9,106.7 47,105Z" fill="#8e8e8e"/>
<path d="M56,107 C56.5,107.8 57.8,110.2 59,112 C60.2,113.8 61.5,116.2 63,118 C64.5,119.8 66.3,121.4 68,123 C69.7,124.6 72.2,126.8 73,127.5" fill="none" stroke="#b5b5b5" stroke-width="1"/>
<path d="M16.7,120.6 C19.6,117.7 28.3,119.8 33.3,120 C38.3,120.2 43.6,121 46.7,121.7 C49.9,122.4 51.1,121.3 52.2,123.9 C53.3,126.5 52.9,133.1 53.3,137.2 C53.7,141.3 54.1,144.6 54.4,148.3 C54.7,152 55,155.5 55,159.4 C55,163.3 54.6,167.6 54.4,172 C54.2,176.4 54.4,182.3 53.9,185.6 C53.4,188.9 52.7,190.8 51.1,191.7 C49.5,192.6 46.2,191.8 44.4,191.1 C42.5,190.4 40.9,189.3 40,187.8 C39.1,186.3 39.4,185 38.9,182.2 C38.4,179.4 37.2,174.5 36.7,171.1 C36.2,167.7 36,165.2 35.6,162 C35.2,158.8 34.8,153.9 34.4,151.7 C34,149.4 33.8,148.1 33.3,148.5 C32.8,148.9 31.8,151.2 31.1,153.9 C30.4,156.7 29.6,162.1 28.9,165 C28.2,167.9 27.8,168.6 26.7,171.1 C25.6,173.6 23.7,177.4 22.2,180 C20.7,182.6 18.9,184.9 17.8,186.7 C16.7,188.5 16.7,190.2 15.6,190.6 C14.5,191 12.3,189.9 11.1,188.9 C9.9,187.9 8.7,186.4 8.3,184.4 C7.9,182.4 8.5,179.4 8.9,176.7 C9.3,174 10.1,170.9 10.6,168 C11.1,165.1 11.2,162.3 11.7,159.4 C12.1,156.5 12.7,154.3 13.3,150.6 C14,146.9 15,142.2 15.6,137.2 C16.2,132.2 13.8,123.5 16.7,120.6Z" fill="#3e3e3e"/>
<path d="M24,126 C26,135 27,142 28,150 M42,128 C44,140 46,155 45,170 M12,155 C14,157 15,160 14.5,163 M11,183 C14,184.5 17,184.5 20,183 M41,185 C45,187 49,187 53,185" stroke="#333" stroke-width="1" fill="none" opacity="0.8"/>
<path d="M7.8,192.2 C8.6,190.9 9.4,189.8 11.1,190 C12.8,190.2 16.2,191.9 17.8,193.3 C19.4,194.7 20.4,197 20.6,198.3 C20.8,199.6 20.5,200.3 18.9,201.1 C17.3,201.9 13.1,203.1 11.1,203.3 C9.1,203.5 7.5,203.1 6.7,202.2 C5.9,201.3 5.9,199.5 6.1,197.8 C6.3,196.1 7,193.5 7.8,192.2Z" fill="#dcdcdc"/>
<path d="M6.5,200.5 C10,203 15,202.5 19.5,199.5" stroke="#9a9a9a" stroke-width="1.6" fill="none"/>
<path d="M42.2,193.3 C43.8,192.3 48.1,192.4 51.1,192.8 C54.1,193.2 57.8,194.6 60,195.6 C62.2,196.6 63.9,197.8 64.4,198.9 C65,200 65.2,201.4 63.3,202.2 C61.4,203 56.6,203.7 53.3,203.9 C50,204.1 45.2,204.1 43.3,203.3 C41.4,202.5 41.9,200.6 41.7,198.9 C41.5,197.2 40.6,194.3 42.2,193.3Z" fill="#dcdcdc"/>
<path d="M42,201.5 C50,204 58,203.5 64,200.5" stroke="#9a9a9a" stroke-width="1.6" fill="none"/>
<path d="M31.1,76.5 C28,77.2 24.6,79.1 22.4,80.9 C20.2,82.7 19.2,85.1 18.1,87.4 C17,89.8 16.4,92.5 15.9,95 C15.3,97.5 14.8,100 14.8,102.7 C14.8,105.4 15.5,108.7 15.9,111.4 C16.3,114.1 15.2,117.5 17,119 C18.8,120.5 23.4,119.7 26.8,120.1 C30.2,120.5 34.1,120.8 37.7,121.2 C41.3,121.6 46.3,122.6 48.5,122.2 C50.7,121.8 50.9,120.5 50.7,119 C50.5,117.5 48.3,115.1 47.4,113.5 C46.5,111.9 45.7,110.8 45.5,109.5 C45.3,108.2 45.4,106.9 46.4,105.9 C47.4,104.9 49.8,104.2 51.8,103.7 C53.8,103.2 57.4,104.3 58.3,102.7 C59.2,101.1 57.9,96.7 57.2,94 C56.5,91.3 55.1,88.5 54,86.3 C52.9,84.1 52.3,82.4 50.7,80.9 C49.1,79.5 45.8,78.3 44.2,77.6 C42.6,76.9 43.1,76.7 40.9,76.5 C38.7,76.3 34.2,75.8 31.1,76.5Z" fill="#d9d9d9"/>
<path d="M23,88 C24,87.7 25.3,95 27,98 C28.7,101 31.5,103.7 33,106 C34.5,108.3 36.8,110.7 36,112 C35.2,113.3 30.3,113.8 28,114 C25.7,114.2 23.2,115.8 22,113.5 C20.8,111.2 20.8,104.2 21,100 C21.2,95.8 22,88.3 23,88Z" fill="#f3f3f3"/>
<path d="M46,106 C50,104.5 54,103.5 58,103" stroke="#c2c2c2" stroke-width="1.5" fill="none"/>
<path d="M15.5,104 C15,110 16,115 17,119" stroke="#7a7a7a" stroke-width="1.2" fill="none"/>
<path d="M31.5,70 C33.3,68.8 40.2,68.8 42,70 C43.8,71.2 43.3,75.6 42.5,77 C41.7,78.4 38.9,78.5 37,78.5 C35.1,78.5 31.9,78.4 31,77 C30.1,75.6 29.7,71.2 31.5,70Z" fill="#adadad"/>
<path d="M26.8,40.4 C28.8,39.5 32.8,39.5 35.5,39.4 C38.2,39.3 40.9,39.3 43.1,39.9 C45.3,40.5 46.9,41.7 48.5,43.2 C50.1,44.7 52.4,47.4 52.9,49.1 C53.4,50.8 52.3,52.2 51.8,53.5 C51.2,54.8 50.2,55.4 49.6,56.8 C49,58.2 48.4,60.4 48,62 C47.6,63.6 48.1,65.3 47.5,66.6 C46.9,67.9 45.5,68.9 44.2,69.8 C42.9,70.7 41.8,71.7 39.8,72 C37.8,72.3 34.4,71.9 32.2,71.5 C30,71.1 28.1,70.6 26.8,69.8 C25.5,69 25.5,67.9 24.6,66.6 C23.7,65.3 22,63.8 21.3,62.2 C20.6,60.6 20.3,58.6 20.2,56.8 C20.1,55 20.2,53.3 20.8,51.3 C21.4,49.3 22.5,46.6 23.5,44.8 C24.5,43 24.8,41.3 26.8,40.4Z" fill="#4f4f4f"/>
<path d="M27,46 C27.7,45 30.7,43.1 33,42.5 C35.3,41.9 38.7,42 41,42.5 C43.3,43 45.4,44.2 47,45.5 C48.6,46.8 50.3,49.6 50.5,50.5 C50.7,51.4 49.4,51.5 48,51 C46.6,50.5 44.2,48.2 42,47.5 C39.8,46.8 37.2,46.3 35,46.5 C32.8,46.7 30.3,48.6 29,48.5 C27.7,48.4 26.3,47 27,46Z" fill="#6e6e6e"/>
<path d="M45,55.5 C45.8,53.6 47.5,53.2 48.5,53.5 C49.5,53.8 50.5,55.3 50.8,57 C51.1,58.7 50.8,61.4 50.4,63.5 C50,65.6 49.5,68.1 48.6,69.5 C47.7,70.9 45.9,72.8 45,72 C44.1,71.2 43.5,67.8 43.5,65 C43.5,62.2 44.2,57.4 45,55.5Z" fill="#9b9b9b"/>
<path d="M46.4,58 C46.9,57.5 48.1,57.8 48.6,58.5 C49.1,59.2 49.4,61.2 49.3,62.5 C49.2,63.8 48.7,66 48.2,66.5 C47.7,67 46.6,66.3 46.2,65.5 C45.8,64.7 45.8,62.8 45.8,61.5 C45.8,60.2 45.9,58.5 46.4,58Z" fill="#b0b0b0"/>
<circle cx="128.7" cy="43.9" r="19.1" fill="#f3f3f3"/>
<path d="M127.40,38.45 Q126.52,31.72 125.65,25.00 A19.1,19.1 0 0 1 143.50,31.78 Q134.99,34.01 127.40,38.45 Z" fill="#767676"/>
<path d="M127.40,38.45 Q134.99,34.01 143.50,31.78 A19.1,19.1 0 0 1 147.39,47.79 Q138.58,40.58 127.40,38.45 Z" fill="#d8d8d8"/>
<path d="M127.40,38.45 Q138.58,40.58 147.39,47.79 A19.1,19.1 0 0 1 133.71,62.28 Q131.71,50.06 127.40,38.45 Z" fill="#a0a0a0"/>
<path d="M127.40,38.45 Q131.71,50.06 133.71,62.28 A19.1,19.1 0 0 1 111.45,52.04 Q118.52,44.18 127.40,38.45 Z" fill="#dfdfdf"/>
<path d="M127.40,38.45 Q118.52,44.18 111.45,52.04 A19.1,19.1 0 0 1 112.57,33.62 Q120.48,34.51 127.40,38.45 Z" fill="#505050"/>
<path d="M127.40,38.45 Q120.48,34.51 112.57,33.62 A19.1,19.1 0 0 1 125.65,25.00 Q126.52,31.72 127.40,38.45 Z" fill="#dcdcdc"/>
<path d="M127.40,38.45 Q126.52,31.72 125.65,25.00 M127.40,38.45 Q134.99,34.01 143.50,31.78 M127.40,38.45 Q138.58,40.58 147.39,47.79 M127.40,38.45 Q131.71,50.06 133.71,62.28 M127.40,38.45 Q118.52,44.18 111.45,52.04 M127.40,38.45 Q120.48,34.51 112.57,33.62" stroke="#f4f4f4" stroke-width="1.3" fill="none"/>
<circle cx="128.7" cy="43.9" r="18.8" fill="none" stroke="#e2e2e2" stroke-width="0.6"/>
<circle cx="127.4" cy="38.5" r="3.5" fill="#3a3a3a"/><circle cx="127.4" cy="38.5" r="2.1" fill="#fff"/>
<path d="M589.4,135.7 C587.5,137.2 588.8,145.3 586.8,148.8 C584.8,152.3 580.8,154 577.7,156.6 C574.7,159.2 570.7,162 568.5,164.4 C566.3,166.8 565,168.9 564.6,171 C564.2,173.1 565.4,175.2 566,177 C566.6,178.8 566.3,182.8 568.5,182 C570.7,181.2 575.5,175.2 579,172.3 C582.5,169.4 586.4,166.8 589.4,164.4 C592.4,162 595.3,159.9 597.3,157.9 C599.3,155.9 601.1,155.7 601.2,152.7 C601.3,149.7 600,142.8 598,140 C596,137.2 591.3,134.2 589.4,135.7Z" fill="#c8c8c8"/>
<path d="M571,176 C572.7,174 576.8,171.4 580,169 C583.2,166.6 587,163.8 590,161.5 C593,159.2 597,155.2 598,155 C599,154.8 597.7,158 596,160 C594.3,162 591,164.5 588,167 C585,169.5 581,172.7 578,175 C575,177.3 571.2,180.8 570,181 C568.8,181.2 569.3,178 571,176Z" fill="#e6e6e6"/>
<path d="M552.8,172.4 C553.6,171.5 556.4,170.4 558.1,170.5 C559.9,170.6 562,171.8 563.3,173.1 C564.6,174.4 565.7,176.1 565.9,178.3 C566.1,180.5 565,183.5 564.6,186.1 C564.2,188.7 564.2,192.5 563.3,194 C562.4,195.5 560.5,195.7 559.4,195.3 C558.3,194.9 557.4,193.4 556.8,191.4 C556.1,189.4 556.1,186.1 555.5,183.5 C554.9,180.9 553.5,177.5 553,175.7 C552.5,173.8 551.9,173.3 552.8,172.4Z" fill="#3a3a3a"/>
<path d="M589.4,122.6 C593.3,121.8 608.9,122.4 613,125.2 C617.1,128 613.4,135.4 614.3,139.6 C615.2,143.8 617.1,146.2 618.2,150.1 C619.3,154 620.1,159 620.8,163.1 C621.4,167.2 621.7,170.8 622.1,174.9 C622.5,179.1 624.3,185.8 623.4,188 C622.5,190.2 619.1,188.7 616.9,188.3 C614.7,187.9 611.7,187.6 610.4,185.4 C609.1,183.2 609.7,178.6 609,174.9 C608.3,171.2 607.7,167 606.4,163.1 C605.1,159.2 603.2,155.3 601.2,151.4 C599.2,147.5 596.7,143.2 594.7,139.6 C592.8,136 590.4,132.8 589.5,130 C588.6,127.2 585.5,123.4 589.4,122.6Z" fill="#e3e3e3"/>
<path d="M597,128 C598,126.8 603.7,128.7 606,131 C608.3,133.3 609.5,138 611,142 C612.5,146 614.2,150.7 615,155 C615.8,159.3 616.5,167.2 616,168 C615.5,168.8 613.7,163.3 612,160 C610.3,156.7 608,151.7 606,148 C604,144.3 601.5,141.3 600,138 C598.5,134.7 596,129.2 597,128Z" fill="#cdcdcd"/>
<path d="M613.5,127 C615,140 619,152 621,165 C622.5,175 623,182 623.2,188" stroke="#f8f8f8" stroke-width="1.2" fill="none"/>
<path d="M617.5,187.5 C618.3,186.6 622.2,186.6 623,187.5 C623.8,188.4 623.3,192.1 622.5,193 C621.7,193.9 618.8,193.9 618,193 C617.2,192.1 616.7,188.4 617.5,187.5Z" fill="#9a9a9a"/>
<path d="M616.2,192.7 C617.1,192.1 619.2,191.8 620.8,192 C622.4,192.2 623.8,193 626,194 C628.2,195 631.8,196.7 633.9,197.9 C636,199.1 637.9,200 638.5,201.2 C639.1,202.4 639.3,204.4 637.8,205.1 C636.3,205.8 632.8,205.6 629.7,205.1 C626.7,204.6 622,202.8 619.5,201.8 C617,200.8 615.5,200.3 614.9,199.2 C614.2,198.1 615.4,196.4 615.6,195.3 C615.8,194.2 615.3,193.2 616.2,192.7Z" fill="#383838"/>
<path d="M590,97 C588.7,96.7 585.5,97 583.5,98.1 C581.5,99.2 579.1,102 578.1,103.5 C577.1,105 577,105.5 577.5,106.8 C578,108.1 579.8,109.3 581.3,111.1 C582.8,112.9 585.2,115.9 586.8,117.7 C588.4,119.5 590,120.5 591.1,122 C592.2,123.5 592.4,125.9 593.3,126.4 C594.2,127 596.2,126.2 596.6,125.3 C597,124.4 596.6,122.7 595.5,120.9 C594.4,119.1 591.6,116.6 590,114.4 C588.4,112.2 586.8,109.5 585.7,107.9 C584.6,106.3 583.3,105.7 583.5,104.6 C583.7,103.5 585.5,102 586.8,101.3 C588.1,100.6 590.6,100.9 591.1,100.2 C591.6,99.5 591.3,97.3 590,97Z" fill="#8c8c8c"/>
<path d="M588.9,92.6 C589.3,91 591.3,90.3 593.3,89.4 C595.3,88.5 598.4,87.8 600.9,87.2 C603.4,86.7 606.7,85.9 608.5,86.1 C610.3,86.3 610.5,87.4 611.8,88.3 C613.1,89.2 615,91.2 616.2,91.5 C617.4,91.8 618.2,89.3 618.9,90.4 C619.6,91.5 620,95.7 620.5,98.1 C621,100.5 621.8,102.8 621.6,104.6 C621.4,106.4 620.1,106.8 619.4,109 C618.7,111.2 617.7,115.5 617.2,117.7 C616.7,119.9 616.9,120.5 616.2,122 C615.5,123.5 613.8,125.5 612.9,126.4 C612,127.3 612.3,127.8 610.7,127.4 C609.1,127 605.6,125 603.1,124.2 C600.6,123.4 598.4,122.8 595.5,122.6 C592.6,122.4 587.6,123.2 586,122.8 C584.4,122.4 585.3,121.2 586,120 C586.7,118.8 589.1,117.7 590,115.5 C590.9,113.3 591,109.5 591.1,106.8 C591.2,104.1 591,101.5 590.6,99.1 C590.2,96.7 588.5,94.2 588.9,92.6Z" fill="#4b4b4b"/>
<path d="M607,101 C607.7,99.7 610,101.8 611,104 C612,106.2 613.3,111.2 613,114 C612.7,116.8 610,121.3 609,121 C608,120.7 607.3,115.3 607,112 C606.7,108.7 606.3,102.3 607,101Z" fill="#545454"/>
<path d="M591.5,120.5 C592.2,119.4 595.8,120.2 597,121 C598.2,121.8 599,124.2 599,125.5 C599,126.8 598.1,128.2 597,128.5 C595.9,128.8 593.4,128.8 592.5,127.5 C591.6,126.2 590.8,121.6 591.5,120.5Z" fill="#a9a9a9"/>
<path d="M619.4,106.8 C619.4,108.3 619.8,111.8 620.5,113.3 C621.2,114.8 622.5,115.9 623.8,115.5 C625.1,115.1 626.8,112.5 628.1,111.1 C629.4,109.6 630.4,107.8 631.4,106.8 C632.4,105.8 633.1,105.8 634,105 C634.9,104.2 636.5,103.1 636.8,102 C637,100.9 636.4,99.2 635.5,98.5 C634.6,97.8 632.5,97.5 631.5,97.8 C630.5,98 630.1,98.8 629.2,100 C628.3,101.2 627.1,103.6 626,105 C624.9,106.4 623.6,108.7 622.7,108.5 C621.8,108.3 621,104.3 620.5,104 C620,103.7 619.4,105.2 619.4,106.8Z" fill="#8e8e8e"/>
<path d="M630,99 C630.3,97.7 631.9,97.5 633,97.5 C634.1,97.5 635.8,98.1 636.5,99 C637.2,99.9 637.3,101.8 637,103 C636.7,104.2 635.5,105.6 634.5,106 C633.5,106.4 631.8,106.7 631,105.5 C630.2,104.3 629.7,100.3 630,99Z" fill="#a3a3a3"/>
<path d="M611.1,79 C612.3,77.3 617,78.1 618.3,80 C619.5,81.9 619.8,88.8 618.6,90.5 C617.4,92.2 612.4,91.9 611.1,90 C609.9,88.1 609.9,80.7 611.1,79Z" fill="#8a8a8a"/>
<path d="M619.8,70.3 C621.1,69.9 621.7,68.6 622.7,68.1 C623.7,67.6 624.9,67 625.6,67.4 C626.3,67.8 626.6,69.3 627,70.3 C627.4,71.3 627.3,72.3 627.8,73.2 C628.3,74.1 629.8,74.7 629.9,75.4 C630,76.1 629,76.9 628.5,77.6 C628,78.3 627.5,79.1 627,79.8 C626.5,80.5 626.3,81.4 625.6,81.9 C624.9,82.4 623.7,82.7 622.7,82.7 C621.7,82.7 620.8,82.3 619.8,81.9 C618.8,81.5 617.6,81 616.9,80.5 C616.2,80 615.8,79.6 615.4,79 C615,78.4 615.1,77.9 614.7,76.9 C614.3,75.9 613.2,74.3 613.2,73.2 C613.2,72.1 613.6,70.8 614.7,70.3 C615.8,69.8 618.5,70.7 619.8,70.3Z" fill="#999"/>
<path d="M613.4,70 C613.8,69.4 615.2,69.3 615.8,69.8 C616.4,70.3 616.9,71.9 617,73 C617.1,74.1 616.9,75.9 616.5,76.5 C616.1,77.1 614.9,77 614.4,76.5 C613.9,76 613.5,74.3 613.3,73.2 C613.1,72.1 613,70.6 613.4,70Z" fill="#ababab"/>
<path d="M603.1,64.5 C603.4,63 604.8,61.5 606,60.2 C607.2,58.9 609,57.6 610.3,56.5 C611.6,55.4 613.1,53.8 614,53.6 C614.9,53.4 614.4,54.9 615.4,55.1 C616.4,55.4 618.2,55 619.8,55.1 C621.4,55.2 623.7,55.3 624.9,55.8 C626.1,56.3 626.4,57.1 627,58 C627.6,58.9 628,59.8 628.5,60.9 C629,62 629.8,63.6 629.9,64.5 C630,65.3 629.7,65.9 629.2,66 C628.7,66.1 627.7,65.2 627,65.2 C626.3,65.2 625.6,65.5 624.9,66 C624.2,66.5 623.6,67.4 622.7,68.1 C621.9,68.8 620.6,70 619.8,70.3 C618.9,70.5 618.5,69.6 617.6,69.6 C616.8,69.6 615.4,69.7 614.7,70.3 C614,70.9 613.2,72.1 613.2,73.2 C613.2,74.3 614.3,75.9 614.7,76.9 C615.1,77.9 615.8,78.5 615.4,79 C615,79.5 613.4,79.8 612.5,79.8 C611.6,79.8 611.3,80.1 610.3,79 C609.3,77.9 607.7,74.9 606.7,73.2 C605.7,71.5 605.1,70.4 604.5,68.9 C603.9,67.5 602.9,66 603.1,64.5Z" fill="#464646"/>
<ellipse cx="626" cy="71.8" rx="1.1" ry="0.8" fill="#333"/><circle cx="626.2" cy="73.9" r="0.7" fill="#e6e6e6"/>
<circle cx="737.4" cy="22.6" r="19.1" fill="#f3f3f3"/>
<path d="M736.10,17.20 Q735.22,10.47 734.35,3.75 A19.1,19.1 0 0 1 752.20,10.53 Q743.69,12.76 736.10,17.20 Z" fill="#767676"/>
<path d="M736.10,17.20 Q743.69,12.76 752.20,10.53 A19.1,19.1 0 0 1 756.09,26.54 Q747.28,19.33 736.10,17.20 Z" fill="#d8d8d8"/>
<path d="M736.10,17.20 Q747.28,19.33 756.09,26.54 A19.1,19.1 0 0 1 742.41,41.03 Q740.41,28.81 736.10,17.20 Z" fill="#a0a0a0"/>
<path d="M736.10,17.20 Q740.41,28.81 742.41,41.03 A19.1,19.1 0 0 1 720.15,30.79 Q727.22,22.93 736.10,17.20 Z" fill="#dfdfdf"/>
<path d="M736.10,17.20 Q727.22,22.93 720.15,30.79 A19.1,19.1 0 0 1 721.27,12.37 Q729.18,13.26 736.10,17.20 Z" fill="#505050"/>
<path d="M736.10,17.20 Q729.18,13.26 721.27,12.37 A19.1,19.1 0 0 1 734.35,3.75 Q735.22,10.47 736.10,17.20 Z" fill="#dcdcdc"/>
<path d="M736.10,17.20 Q735.22,10.47 734.35,3.75 M736.10,17.20 Q743.69,12.76 752.20,10.53 M736.10,17.20 Q747.28,19.33 756.09,26.54 M736.10,17.20 Q740.41,28.81 742.41,41.03 M736.10,17.20 Q727.22,22.93 720.15,30.79 M736.10,17.20 Q729.18,13.26 721.27,12.37" stroke="#f4f4f4" stroke-width="1.3" fill="none"/>
<circle cx="737.4" cy="22.6" r="18.8" fill="none" stroke="#e2e2e2" stroke-width="0.6"/>
<circle cx="736.1" cy="17.2" r="3.5" fill="#3a3a3a"/><circle cx="736.1" cy="17.2" r="2.1" fill="#fff"/>
<path d="M40.3,385.7 C41.6,385.3 44.4,387.6 45.7,388.9 C47.1,390.2 48.2,392 48.4,393.3 C48.6,394.6 47.8,396.4 46.8,396.6 C45.8,396.8 43.8,395.3 42.4,394.4 C41,393.5 38.5,392.6 38.1,391.1 C37.8,389.7 39,386.1 40.3,385.7Z" fill="#8a8a8a"/>
<path d="M8.7,335.7 C14.7,334.6 38.4,335 44.6,335.7 C50.8,336.4 44.4,338.6 45.7,340 C47,341.4 49.7,342.6 52.2,344.4 C54.8,346.2 59,348.7 61,350.9 C63,353.1 63.9,355.6 64.2,357.4 C64.5,359.2 64,359.8 63.1,361.8 C62.2,363.8 60.2,367.4 58.8,369.4 C57.3,371.4 56.2,371.3 54.4,373.7 C52.6,376.1 49.3,381.6 47.9,383.5 C46.5,385.4 46.8,385 45.7,385.1 C44.6,385.2 42.7,383.2 41.4,384 C40.1,384.8 39.2,387.7 38.1,390 C37,392.3 36.1,395 34.8,397.7 C33.5,400.4 31.9,404.6 30.5,406.4 C29.1,408.2 29.4,408.7 26.1,408.5 C22.8,408.3 13.6,406 10.9,405.3 C8.2,404.6 9.8,405.5 9.8,404.2 C9.8,402.9 10.4,400.6 10.9,397.7 C11.4,394.8 12.2,390.8 13.1,386.8 C14,382.8 16,377.3 16.3,373.7 C16.7,370.1 15.6,366.6 15.2,365 C14.8,363.4 14.8,366 14.1,364 C13.4,362 11.8,356.7 10.9,353.1 C10,349.5 9.1,345.1 8.7,342.2 C8.3,339.3 2.7,336.8 8.7,335.7Z" fill="#9d9d9d"/>
<path d="M37,345.5 C37.2,344.5 38.4,346.1 40,348 C41.6,349.9 46.3,354.9 46.8,357 C47.3,359.1 44.3,361.2 43,360.7 C41.7,360.2 40,356.5 39,354 C38,351.5 36.8,346.5 37,345.5Z" fill="#8b8b8b"/>
<path d="M8.7,406.4 C9.3,405.5 8.4,404.9 10.9,405.3 C13.4,405.7 20.6,407.2 23.9,408.5 C27.2,409.8 29,411.4 30.5,412.9 C32,414.3 32.5,416.1 32.7,417.2 C32.9,418.3 33.4,419.4 31.6,419.4 C29.8,419.4 25.6,418.1 21.8,417.2 C18,416.3 11.1,415.1 8.7,414 C6.2,412.9 7.1,412 7.1,410.7 C7.1,409.4 8.1,407.3 8.7,406.4Z" fill="#8c8c8c"/>
<path d="M7.5,412.5 C15,415.5 24,418 32,419" stroke="#777" stroke-width="1.3" fill="none"/>
<path d="M14.1,322 C16.1,319.2 19.4,315.9 21.8,313.2 C24.2,310.4 26.1,307.3 28.3,305.5 C30.5,303.7 32.3,302.9 34.8,302.3 C37.3,301.7 40.2,301.9 43.5,301.7 C46.8,301.5 50.8,301.6 54.4,301.2 C58,300.8 61.7,300 65.3,299 C68.9,298 73.4,296 76.2,295.2 C79,294.4 80.5,293 82,294 C83.5,295 85.3,298.9 85,301 C84.7,303.1 82.4,304.8 80,306.6 C77.6,308.5 73.5,310.7 70.7,312.1 C67.9,313.6 65.8,314.6 63.1,315.3 C60.4,316 56.4,315.3 54.4,316.4 C52.4,317.5 52.5,319.9 51.2,322 C49.9,324.1 47.9,326.8 46.8,329.1 C45.7,331.4 51,334.6 44.6,335.7 C38.2,336.8 14.5,336.6 8.7,335.7 C2.9,334.8 8.9,332.5 9.8,330.2 C10.7,327.9 12.1,324.8 14.1,322Z" fill="#a9a9a9"/>
<path d="M51,320 C54,317 58,316 63,315" stroke="#9a9a9a" stroke-width="1" fill="none"/>
<path d="M42,295 C43.9,293.9 51.5,294.8 53.4,296 C55.3,297.2 55.3,301.4 53.4,302.5 C51.5,303.6 43.9,303.8 42,302.5 C40.1,301.2 40.1,296.1 42,295Z" fill="#606060"/>
<path d="M51.9,279.7 C53,279.7 54.9,279.8 55.6,280.4 C56.3,281 55.7,282.7 56.3,283.3 C56.9,283.9 58.6,283.6 59.2,284 C59.8,284.4 59.9,284.9 59.9,285.5 C59.9,286.1 59.1,286.8 59.2,287.7 C59.3,288.6 60.5,289.6 60.6,290.6 C60.7,291.6 60.5,292.6 59.9,293.5 C59.3,294.4 58,294.8 57,295.7 C56,296.6 54.7,297.6 54.1,298.6 C53.5,299.7 54.8,301.4 53.4,302 C52,302.6 47.8,302.8 46,302 C44.2,301.2 43.2,298.4 42.5,297.1 C41.8,295.8 42.3,295.1 41.8,294.2 C41.3,293.3 40.2,292.7 39.6,292 C39,291.3 38.2,290.6 38.1,289.9 C38,289.2 38.3,288.3 38.9,287.7 C39.5,287.1 40.7,286.4 41.8,286.2 C42.9,285.9 44.5,286.7 45.4,286.2 C46.2,285.7 46.3,284.3 46.9,283.3 C47.5,282.3 48.2,281 49,280.4 C49.8,279.8 50.8,279.7 51.9,279.7Z" fill="#6a6a6a"/>
<path d="M38.4,287.5 C38.8,286.8 40.6,286.4 41.5,286.6 C42.4,286.9 43.3,288 43.6,289 C43.9,290 43.8,291.9 43.4,292.5 C43,293.1 41.7,293.1 41,292.8 C40.3,292.6 39.4,291.9 39,291 C38.6,290.1 38,288.2 38.4,287.5Z" fill="#7e7e7e"/>
<path d="M24.4,281.1 C25,279.8 26.1,278.1 27.3,276.8 C28.5,275.5 29.9,274.3 31.6,273.2 C33.3,272.1 35.5,271.1 37.4,270.3 C39.3,269.5 41.3,268.8 43.2,268.4 C45.1,268 47.3,267.9 49,268.1 C50.7,268.3 52.8,269 53.4,269.5 C54,270 52.2,270.4 52.7,271 C53.2,271.6 55.2,272.5 56.3,273.2 C57.4,273.9 59,274.7 59.2,275.3 C59.4,275.9 58.6,276.3 57.7,276.8 C56.9,277.3 55.1,277.7 54.1,278.2 C53.1,278.7 52.8,279.3 51.9,279.7 C51,280.1 49.8,279.8 49,280.4 C48.2,281 47.5,282.3 46.9,283.3 C46.3,284.3 46.2,285.7 45.4,286.2 C44.5,286.7 42.9,285.9 41.8,286.2 C40.7,286.4 39.5,287.1 38.9,287.7 C38.3,288.3 38,289.2 38.1,289.9 C38.2,290.6 39,291.3 39.6,292 C40.2,292.7 41.3,293.3 41.8,294.2 C42.3,295.1 42.9,296.5 42.5,297.1 C42.1,297.7 40.7,297.8 39.6,297.8 C38.5,297.8 37.1,297.3 36,297.1 C34.9,296.9 34,296.8 33.1,296.4 C32.2,296 31.5,295.5 30.9,294.9 C30.3,294.3 30.1,293.3 29.4,292.8 C28.7,292.3 27.3,292.5 26.5,292 C25.7,291.5 24.5,290.7 24.4,289.9 C24.3,289.1 25.9,287.9 25.8,287 C25.7,286.1 23.8,285.8 23.6,284.8 C23.4,283.8 23.8,282.4 24.4,281.1Z" fill="#222" stroke="#111" stroke-width="0.7"/>
<circle cx="94.7" cy="290.0" r="19.0" fill="#f3f3f3"/>
<path d="M92.50,283.80 Q92.08,277.52 91.66,271.24 A19.0,19.0 0 0 1 109.42,277.99 Q100.57,279.76 92.50,283.80 Z" fill="#767676"/>
<path d="M92.50,283.80 Q100.57,279.76 109.42,277.99 A19.0,19.0 0 0 1 113.29,293.92 Q104.12,286.34 92.50,283.80 Z" fill="#d8d8d8"/>
<path d="M92.50,283.80 Q104.12,286.34 113.29,293.92 A19.0,19.0 0 0 1 99.68,308.34 Q97.24,295.73 92.50,283.80 Z" fill="#a0a0a0"/>
<path d="M92.50,283.80 Q97.24,295.73 99.68,308.34 A19.0,19.0 0 0 1 77.54,298.15 Q84.05,289.96 92.50,283.80 Z" fill="#dfdfdf"/>
<path d="M92.50,283.80 Q84.05,289.96 77.54,298.15 A19.0,19.0 0 0 1 78.66,279.82 Q86.02,280.27 92.50,283.80 Z" fill="#505050"/>
<path d="M92.50,283.80 Q86.02,280.27 78.66,279.82 A19.0,19.0 0 0 1 91.66,271.24 Q92.08,277.52 92.50,283.80 Z" fill="#dcdcdc"/>
<path d="M92.50,283.80 Q92.08,277.52 91.66,271.24 M92.50,283.80 Q100.57,279.76 109.42,277.99 M92.50,283.80 Q104.12,286.34 113.29,293.92 M92.50,283.80 Q97.24,295.73 99.68,308.34 M92.50,283.80 Q84.05,289.96 77.54,298.15 M92.50,283.80 Q86.02,280.27 78.66,279.82" stroke="#f4f4f4" stroke-width="1.3" fill="none"/>
<circle cx="94.7" cy="290.0" r="18.7" fill="none" stroke="#e2e2e2" stroke-width="0.6"/>
<circle cx="92.5" cy="283.8" r="3.5" fill="#3a3a3a"/><circle cx="92.5" cy="283.8" r="2.1" fill="#fff"/>
<path d="M77.3,280.9 C77.8,279.9 78.2,280.1 79.4,280.2 C80.6,280.3 82.9,281.2 84.5,281.6 C86.1,282 87.9,282.3 88.9,282.7 C89.9,283.1 90,283.9 90.3,283.8 C90.6,283.7 90.5,282.8 91,282.3 C91.5,281.8 92.5,281 93.2,280.9 C93.9,280.8 94.8,281 95.4,281.6 C96,282.2 96.5,283.3 96.9,284.5 C97.3,285.7 97.4,287.6 97.6,288.9 C97.8,290.2 98.8,291.5 98.3,292.5 C97.8,293.5 96,294 94.7,294.7 C93.4,295.4 91.8,296.2 90.3,296.9 C88.8,297.6 87.1,299.1 86,299 C84.9,298.9 84.3,297.1 83.8,296.1 C83.3,295.1 83.9,293.7 83.1,293.2 C82.2,292.7 79.8,293.4 78.7,293.2 C77.6,293 76.9,293 76.5,291.8 C76.1,290.6 76.2,287.8 76.3,286 C76.4,284.2 76.8,281.9 77.3,280.9Z" fill="#565656" stroke="#3c3c3c" stroke-width="0.7"/>
<path d="M90.5,283.5 C91.5,281.8 93.5,281.5 94.5,283" fill="none" stroke="#ddd" stroke-width="0.9"/>
<path d="M60,299.2 C61.7,296.7 66.9,297.8 70,296.9 C73.1,296 76.7,294.4 78.7,293.9 C80.8,293.4 81.3,293 82.3,293.9 C83.3,294.8 84.1,297.5 84.5,299 C84.9,300.5 85.5,301.6 84.5,302.7 C83.5,303.8 81.1,304.5 78.7,305.6 C76.3,306.7 72,307.7 70,309.2 C68,310.7 68.2,313.9 66.5,314.4 C64.8,314.9 61.1,314.5 60,312 C58.9,309.5 58.3,301.7 60,299.2Z" fill="#a9a9a9"/>
<path d="M49,313 C50.7,311.2 57.8,311.2 60,311.5 C62.2,311.8 62.7,313.4 62,314.5 C61.3,315.6 58,316.8 56,318 C54,319.2 51.2,322.8 50,322 C48.8,321.2 47.3,314.8 49,313Z" fill="#a9a9a9"/>
<path d="M604.5,367.5 C607.6,366.4 616.3,364.9 622.7,364.4 C629.1,363.9 638.9,362.8 643.1,364.4 C647.3,366 646.2,370.9 647.8,373.8 C649.4,376.7 650.7,379.1 652.5,381.7 C654.3,384.3 657,387.1 658.8,389.5 C660.6,391.9 662.7,393.2 663.5,395.8 C664.3,398.4 664.5,402.9 663.5,405.2 C662.5,407.5 659.9,409.4 657.3,409.9 C654.7,410.4 650.7,409.4 647.8,408.3 C644.9,407.2 642.1,405.7 640,403.6 C637.9,401.5 636.9,397.9 635.3,395.8 C633.7,393.7 632.2,392.7 630.6,391.1 C629,389.5 627.5,385.9 625.9,386.4 C624.3,386.9 622.8,391.6 621.2,394.2 C619.6,396.8 617.8,399.5 616.5,402.1 C615.2,404.7 614.3,407.8 613.3,409.9 C612.2,412 611.8,413.7 610.2,414.6 C608.6,415.5 606,416.2 603.9,415.4 C601.8,414.6 599.4,412.1 597.6,409.9 C595.8,407.7 594.2,404.5 592.9,402.1 C591.6,399.8 589.8,398.4 589.8,395.8 C589.8,393.2 592.7,389 592.9,386.4 C593.1,383.8 590.2,381.1 591,380 C591.8,378.9 596,380.4 597.6,380.1 C599.2,379.9 599.8,380.1 600.8,378.5 C601.8,376.9 603.3,372.5 603.9,370.7 C604.5,368.9 601.4,368.6 604.5,367.5Z" fill="#333"/>
<path d="M598,390 C603,395 607,400 610,407 M638,378 C643,384 648,392 652,399 M612,372 C618,372 625,374 630,380 M634,395 C638,398 642,400 645,398" stroke="#424242" stroke-width="1.6" fill="none" opacity="0.9"/>
<path d="M588.5,371 C588.9,368.8 591.4,366.8 593,366.5 C594.6,366.2 596.8,367.7 598,369.5 C599.2,371.3 600.8,375.6 600.5,377.5 C600.2,379.4 597.7,380.6 596,381 C594.3,381.4 591.8,381.7 590.5,380 C589.2,378.3 588.1,373.2 588.5,371Z" fill="#2b2b2b"/>
<path d="M565.5,370.7 C565.8,369.5 567.7,368.6 569.4,367.5 C571.1,366.4 573.4,365 575.7,364.4 C578.1,363.8 581.4,364 583.5,363.6 C585.6,363.2 586.8,362.2 588.2,362.1 C589.7,362 591.4,361.4 592.2,362.8 C593,364.2 592.6,368.3 593,370.7 C593.4,373.1 594.8,375.7 594.5,377 C594.2,378.3 593,378.8 591.4,378.5 C589.8,378.2 587.7,376 585.1,375.4 C582.5,374.8 578.6,374.7 575.7,374.6 C572.8,374.5 569.5,375.2 567.8,374.6 C566.1,374 565.2,371.9 565.5,370.7Z" fill="#1f1f1f"/>
<path d="M591.5,317.1 C593.1,314.8 596.7,313.5 600,314 C603.3,314.5 606.4,319.1 611.1,319.9 C615.9,320.7 624.1,320.2 628.5,318.8 C632.9,317.4 634.9,313.2 637.7,311.6 C640.5,310 643.4,307.9 645.3,309 C647.2,310.1 648.5,314.8 649.2,317.9 C649.9,321 649.9,325.7 649.3,327.7 C648.7,329.7 646.8,328.1 645.8,330.1 C644.8,332.1 643.4,336 643.4,339.5 C643.4,343 645.2,348 645.8,351.3 C646.4,354.6 647,357.1 647,359.5 C647,361.9 646.8,364.6 645.8,365.4 C644.8,366.2 644.9,364.3 641,364.3 C637.1,364.3 627.9,365 622.2,365.4 C616.5,365.8 609.9,366.8 606.8,366.6 C603.6,366.4 603.9,365.3 603.3,364.3 C602.7,363.3 602.7,363.1 603.3,360.7 C603.9,358.3 606.4,353.1 606.8,350.1 C607.2,347.2 606.1,345.8 605.7,343 C605.3,340.2 605.3,335 604.5,333.6 C603.7,332.2 602.8,334.1 601,334.8 C599.2,335.5 595.5,337.9 593.9,337.7 C592.3,337.5 592.1,335.3 591.5,333.6 C590.9,331.9 590.3,330.4 590.3,327.7 C590.3,324.9 589.9,319.4 591.5,317.1Z" fill="#f6f6f6" stroke="#cfcfcf" stroke-width="0.9"/>
<path d="M603,349 C603.7,347 605.5,346.8 607,348 C608.5,349.2 610.2,354 612,356 C613.8,358 617.5,359 617.5,360 C617.5,361 613.9,361.2 612,362 C610.1,362.8 607.5,364.8 606,364.5 C604.5,364.2 603.5,362.6 603,360 C602.5,357.4 602.3,351 603,349Z" fill="#c6c6c6"/>
<path d="M610.4,324.2 L613.9,331.2 L619.8,325.3 L625.7,323 L629.3,328.9 L630.4,337.1 L634,345.4 L631.6,353.6 L632.8,359.5 M637,354.5 L642,355" stroke="#cdcdcd" stroke-width="1" fill="none"/>
<path d="M558.9,286.2 C559.5,285 560.3,284.4 561.4,284.2 C562.5,284 564.4,284.9 565.3,284.9 C566.1,284.9 565.9,283.8 566.5,284.2 C567.1,284.6 568.5,286 569.1,287.4 C569.7,288.8 570.3,291 570.3,292.5 C570.3,294 568.2,294.6 569.1,296.3 C570,298 573.1,300.4 575.4,302.7 C577.7,305 580.9,308.2 583,310.3 C585.1,312.4 586.6,314.1 588.1,315.4 C589.6,316.7 591.2,316.2 592,317.9 C592.8,319.6 592.8,324.3 592.6,325.6 C592.4,326.9 592.5,326.5 590.7,325.6 C588.9,324.8 584.3,322.2 581.8,320.5 C579.2,318.8 577.5,317.7 575.4,315.4 C573.3,313.1 571,309.1 569.1,306.5 C567.2,303.9 565.7,301.8 564,300.1 C562.3,298.4 560,297.8 558.9,296.3 C557.8,294.8 557.6,292.9 557.6,291.2 C557.6,289.5 558.3,287.4 558.9,286.2Z" fill="#4d4d4d"/>
<path d="M658,270.9 C658.8,269.7 660.4,268.8 661.9,269 C663.4,269.2 665.8,271 667,272.2 C668.2,273.4 669.1,274.7 668.9,276 C668.7,277.3 666.7,278.8 665.7,279.8 C664.7,280.9 663.7,280.6 663.1,282.3 C662.5,284 662.5,287 661.9,290 C661.3,293 660.1,297.1 659.3,300.1 C658.4,303.1 657.8,305.7 656.8,307.8 C655.8,309.9 654.3,311.3 653,312.8 C651.7,314.3 650.4,317.1 649.2,316.7 C648,316.3 645.8,313.1 646,310.3 C646.2,307.5 648.8,303.5 650.4,300.1 C652,296.7 654.1,293.2 655.5,290 C656.9,286.8 658.4,283.4 658.7,281.1 C659,278.8 657.5,277.7 657.4,276 C657.3,274.3 657.2,272.1 658,270.9Z" fill="#4a4a4a"/>
<path d="M613.8,310 C615.2,308.8 620.5,309.6 622,311 C623.5,312.4 623.2,316.9 622.5,318.5 C621.8,320.1 619.5,320.5 618,320.5 C616.5,320.5 614.5,320.2 613.8,318.5 C613.1,316.8 612.4,311.2 613.8,310Z" fill="#404040"/>
<path d="M613,289.3 C614.2,288.2 616.2,287.4 618,287 C619.8,286.6 621.7,286.4 623.6,286.9 C625.5,287.4 628.1,288.3 629.3,290.1 C630.5,291.9 630.6,294.9 630.9,297.5 C631.2,300.1 631.2,303.8 630.9,305.7 C630.6,307.6 630.1,307.9 629.3,308.9 C628.5,309.8 627.4,310.7 626,311.4 C624.6,312.1 622.7,312.9 621.1,313 C619.5,313.1 617.6,312.8 616.2,312.2 C614.9,311.6 614,311.1 613,309.7 C612,308.3 611,305.8 610.5,304 C610,302.2 609.7,300.9 609.7,299.1 C609.7,297.3 610,295 610.5,293.4 C611,291.8 611.8,290.4 613,289.3Z" fill="#4f4f4f"/>
<path d="M598.3,297.5 C598.2,296.4 599.4,294.8 599.9,293.4 C600.4,292 600.7,290.7 601.5,289.3 C602.3,287.9 603.6,286.3 604.8,285.2 C606,284.1 607.5,283.2 608.9,282.8 C610.3,282.4 611.6,282.9 613,282.6 C614.4,282.3 615.5,281.9 617,281.2 C618.5,280.5 620.4,279.4 621.9,278.7 C623.4,277.9 624.9,276.7 626,276.7 C627.1,276.7 628,277.8 628.5,278.7 C629,279.6 628.9,281.1 629.3,282 C629.7,282.9 630.7,283.2 630.9,284.4 C631.1,285.6 630.8,288.4 630.5,289.3 C630.2,290.2 630.4,290.5 629.3,290.1 C628.1,289.7 625.5,287.4 623.6,286.9 C621.7,286.4 619.7,286.5 617.9,286.9 C616.1,287.3 614.2,288.2 613,289.3 C611.8,290.4 611,291.8 610.5,293.4 C610,295 609.7,297.3 609.7,299.1 C609.7,300.9 610,302.5 610.5,304 C611,305.5 612.9,307.3 613,308.1 C613.1,308.9 612.3,309 611.3,308.9 C610.3,308.8 608.6,308.2 607.2,307.3 C605.9,306.4 604.3,304.4 603.2,303.2 C602.1,302 601.5,300.8 600.7,299.9 C599.9,298.9 598.4,298.6 598.3,297.5Z" fill="#262626" stroke="#151515" stroke-width="0.6"/>
<ellipse cx="617" cy="296.7" rx="1.5" ry="1" fill="#1a1a1a"/><ellipse cx="627.4" cy="296" rx="1.5" ry="1" fill="#1a1a1a"/>
<path d="M614.5,294.2 Q617,292.6 619.6,294.6 M625,293.8 Q627.5,292.4 630,294" stroke="#2a2a2a" stroke-width="0.8" fill="none"/>
<path d="M619.5,303.6 C622,303.6 627,303.4 629.3,303.2 C628.3,305.6 626.4,306.6 624.4,306.5 C622.2,306.4 620.5,305.2 619.5,303.6 Z" fill="#f8f8f8"/>
<circle cx="694.2" cy="393.0" r="19.0" fill="#f3f3f3"/>
<path d="M692.90,387.60 Q692.03,380.92 691.16,374.24 A19.0,19.0 0 0 1 708.92,380.99 Q700.45,383.19 692.90,387.60 Z" fill="#767676"/>
<path d="M692.90,387.60 Q700.45,383.19 708.92,380.99 A19.0,19.0 0 0 1 712.79,396.92 Q704.03,389.72 692.90,387.60 Z" fill="#d8d8d8"/>
<path d="M692.90,387.60 Q704.03,389.72 712.79,396.92 A19.0,19.0 0 0 1 699.18,411.34 Q697.20,399.16 692.90,387.60 Z" fill="#a0a0a0"/>
<path d="M692.90,387.60 Q697.20,399.16 699.18,411.34 A19.0,19.0 0 0 1 677.04,401.15 Q684.06,393.31 692.90,387.60 Z" fill="#dfdfdf"/>
<path d="M692.90,387.60 Q684.06,393.31 677.04,401.15 A19.0,19.0 0 0 1 678.16,382.82 Q686.02,383.69 692.90,387.60 Z" fill="#505050"/>
<path d="M692.90,387.60 Q686.02,383.69 678.16,382.82 A19.0,19.0 0 0 1 691.16,374.24 Q692.03,380.92 692.90,387.60 Z" fill="#dcdcdc"/>
<path d="M692.90,387.60 Q692.03,380.92 691.16,374.24 M692.90,387.60 Q700.45,383.19 708.92,380.99 M692.90,387.60 Q704.03,389.72 712.79,396.92 M692.90,387.60 Q697.20,399.16 699.18,411.34 M692.90,387.60 Q684.06,393.31 677.04,401.15 M692.90,387.60 Q686.02,383.69 678.16,382.82" stroke="#f4f4f4" stroke-width="1.3" fill="none"/>
<circle cx="694.2" cy="393.0" r="18.7" fill="none" stroke="#e2e2e2" stroke-width="0.6"/>
<circle cx="692.9" cy="387.6" r="3.5" fill="#3a3a3a"/><circle cx="692.9" cy="387.6" r="2.1" fill="#fff"/>
<g fill="#fff" stroke="#213e6b" stroke-width="2">
  <rect x="99.6" y="193.4" width="25.3" height="24.9" rx="3.6"/>
  <rect x="523.2" y="193.4" width="25.3" height="24.6" rx="3.6"/>
  <rect x="99.6" y="398.9" width="25.3" height="25" rx="3.6"/>
  <rect x="523.2" y="398.9" width="25" height="25" rx="3.6"/>
</g>
<text class="lbl" x="112.7" y="212.7" text-anchor="middle">A</text>
<text class="lbl" x="536.5" y="212.7" text-anchor="middle">B</text>
<text class="lbl" x="113.1" y="418.2" text-anchor="middle">C</text>
<text class="lbl" x="536.3" y="418.3" text-anchor="middle">D</text>
<rect x="22.1" y="443.7" width="686.9" height="102.2" fill="none" stroke="#1d3557" stroke-width="2"/>
<rect x="47" y="462" width="27.5" height="27" fill="#ffff00"/>
<rect x="201.3" y="462" width="27.5" height="27" fill="#7030a0"/>
<rect x="380.5" y="462" width="27.5" height="27" fill="#00b0f0"/>
<rect x="541.3" y="462" width="28" height="27" fill="#ff0000"/>
<rect x="47" y="507.5" width="27.5" height="27" fill="#00b050"/>
<text class="lt" x="89.5" y="485" textLength="98.3" lengthAdjust="spacingAndGlyphs">Visual cortex</text>
<text class="lt" x="243.8" y="485" textLength="126.7" lengthAdjust="spacingAndGlyphs">Premotor cortex</text>
<text class="lt" x="423.3" y="485" textLength="101.7" lengthAdjust="spacingAndGlyphs">Motor cortex</text>
<text class="lt" x="582.5" y="485" textLength="115" lengthAdjust="spacingAndGlyphs">Sensory cortex</text>
<text class="lt" x="89.5" y="530" textLength="105.5" lengthAdjust="spacingAndGlyphs">Angular gyrus</text>
</svg>
</body></html>
